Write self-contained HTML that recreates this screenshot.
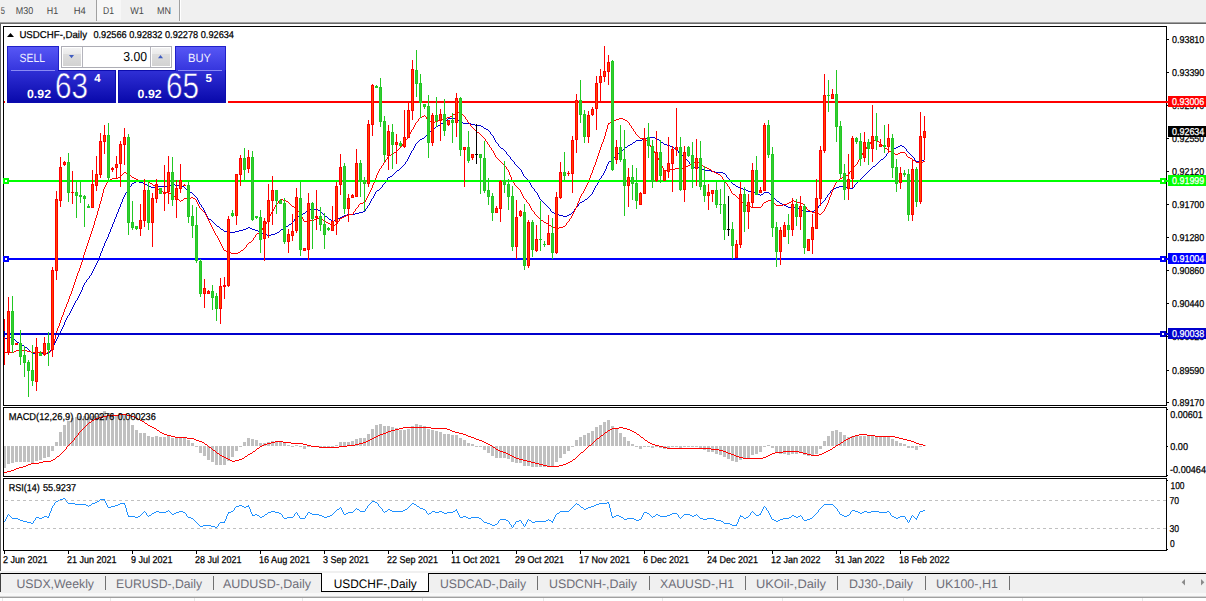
<!DOCTYPE html><html><head><meta charset="utf-8"><style>html,body{margin:0;padding:0;background:#fff}svg{display:block}</style></head><body><svg width="1206" height="601" viewBox="0 0 1206 601" font-family="Liberation Sans, sans-serif" text-rendering="geometricPrecision"><rect x="0" y="0" width="1206" height="601" fill="#ffffff" />
<rect x="0" y="0" width="1206" height="22" fill="#f0f0f0" />
<rect x="0" y="22" width="1206" height="1" fill="#a0a0a0" />
<rect x="0" y="23" width="1206" height="1" fill="#696969" />
<rect x="0" y="24" width="1" height="547" fill="#606060" />
<rect x="96" y="0" width="1" height="21" fill="#a0a0a0" />
<rect x="97" y="0" width="24" height="20" fill="#f7f7f7" />
<rect x="179" y="0" width="1" height="21" fill="#a0a0a0" />
<rect x="180" y="0" width="1" height="21" fill="#ffffff" />
<text x="0.8" y="14.2" font-size="10" fill="#484848" textLength="4.2" lengthAdjust="spacingAndGlyphs" stroke="none">5</text>
<text x="15.8" y="14.2" font-size="10" fill="#484848" textLength="17.4" lengthAdjust="spacingAndGlyphs" stroke="none">M30</text>
<text x="46.8" y="14.2" font-size="10" fill="#484848" textLength="11.4" lengthAdjust="spacingAndGlyphs" stroke="none">H1</text>
<text x="73.7" y="14.2" font-size="10" fill="#484848" textLength="12.1" lengthAdjust="spacingAndGlyphs" stroke="none">H4</text>
<text x="103" y="14.2" font-size="10" fill="#484848" textLength="11" lengthAdjust="spacingAndGlyphs" stroke="none">D1</text>
<text x="130.3" y="14.2" font-size="10" fill="#484848" textLength="13.6" lengthAdjust="spacingAndGlyphs" stroke="none">W1</text>
<text x="157" y="14.2" font-size="10" fill="#484848" textLength="14" lengthAdjust="spacingAndGlyphs" stroke="none">MN</text>
<rect x="3" y="26" width="1" height="525" fill="#000" />
<rect x="3" y="26" width="1164" height="1" fill="#000" />
<rect x="1166" y="26" width="1" height="525" fill="#000" />
<rect x="3" y="405" width="1164" height="1" fill="#000" />
<rect x="3" y="406" width="1164" height="1" fill="#fff" />
<rect x="3" y="407" width="1164" height="1" fill="#000" />
<rect x="3" y="476" width="1164" height="1" fill="#000" />
<rect x="3" y="477" width="1164" height="1" fill="#fff" />
<rect x="3" y="478" width="1164" height="1" fill="#000" />
<rect x="3" y="550" width="1164" height="1" fill="#000" />
<path d="M4 338h1v1h-1zM5 338h1v1h-1zM6 338h1v1h-1zM7 337h1v1h-1zM8 337h1v1h-1zM9 337h1v1h-1zM10 337h1v1h-1zM11 338h1v1h-1zM12 338h1v1h-1zM13 339h1v1h-1zM14 339h1v1h-1zM15 340h1v1h-1zM16 341h1v1h-1zM17 342h1v1h-1zM18 342h1v1h-1zM19 343h1v1h-1zM20 344h1v1h-1zM21 344h1v1h-1zM22 345h1v1h-1zM23 345h1v1h-1zM24 346h1v1h-1zM25 347h1v1h-1zM26 347h1v1h-1zM27 348h1v1h-1zM28 349h1v1h-1zM29 350h1v1h-1zM30 351h1v1h-1zM31 352h1v1h-1zM32 353h1v1h-1zM33 353h1v1h-1zM34 353h1v1h-1zM35 352h1v1h-1zM36 352h1v1h-1zM37 352h1v1h-1zM38 352h1v1h-1zM39 353h1v1h-1zM40 353h1v1h-1zM41 353h1v1h-1zM42 353h1v1h-1zM43 353h1v1h-1zM44 353h1v1h-1zM45 353h1v1h-1zM46 353h1v1h-1zM47 353h1v1h-1zM48 353h1v1h-1zM49 352h1v1h-1zM50 350h1v2h-1zM51 349h1v1h-1zM52 347h1v2h-1zM53 345h1v2h-1zM54 343h1v2h-1zM55 341h1v2h-1zM56 339h1v2h-1zM57 337h1v2h-1zM58 335h1v2h-1zM59 333h1v2h-1zM60 331h1v2h-1zM61 329h1v2h-1zM62 327h1v2h-1zM63 325h1v2h-1zM64 322h1v3h-1zM65 320h1v2h-1zM66 318h1v2h-1zM67 316h1v2h-1zM68 315h1v1h-1zM69 313h1v2h-1zM70 311h1v2h-1zM71 309h1v2h-1zM72 307h1v2h-1zM73 305h1v2h-1zM74 303h1v2h-1zM75 301h1v2h-1zM76 300h1v1h-1zM77 298h1v2h-1zM78 296h1v2h-1zM79 294h1v2h-1zM80 292h1v2h-1zM81 290h1v2h-1zM82 287h1v3h-1zM83 285h1v2h-1zM84 283h1v2h-1zM85 282h1v1h-1zM86 280h1v2h-1zM87 279h1v1h-1zM88 278h1v1h-1zM89 276h1v2h-1zM90 275h1v1h-1zM91 273h1v2h-1zM92 271h1v2h-1zM93 269h1v2h-1zM94 267h1v2h-1zM95 265h1v2h-1zM96 263h1v2h-1zM97 261h1v2h-1zM98 258h1v3h-1zM99 256h1v2h-1zM100 253h1v3h-1zM101 251h1v2h-1zM102 248h1v3h-1zM103 246h1v2h-1zM104 243h1v3h-1zM105 241h1v2h-1zM106 239h1v2h-1zM107 237h1v2h-1zM108 234h1v3h-1zM109 232h1v2h-1zM110 229h1v3h-1zM111 227h1v2h-1zM112 224h1v3h-1zM113 222h1v2h-1zM114 219h1v3h-1zM115 217h1v2h-1zM116 214h1v3h-1zM117 212h1v2h-1zM118 209h1v3h-1zM119 207h1v2h-1zM120 204h1v3h-1zM121 202h1v2h-1zM122 199h1v3h-1zM123 197h1v2h-1zM124 195h1v2h-1zM125 193h1v2h-1zM126 192h1v1h-1zM127 190h1v2h-1zM128 189h1v1h-1zM129 187h1v2h-1zM130 186h1v1h-1zM131 184h1v2h-1zM132 183h1v1h-1zM133 183h1v1h-1zM134 182h1v1h-1zM135 182h1v1h-1zM136 181h1v1h-1zM137 181h1v1h-1zM138 181h1v1h-1zM139 182h1v1h-1zM140 182h1v1h-1zM141 182h1v1h-1zM142 182h1v1h-1zM143 183h1v1h-1zM144 183h1v1h-1zM145 184h1v1h-1zM146 184h1v1h-1zM147 185h1v1h-1zM148 186h1v1h-1zM149 186h1v1h-1zM150 186h1v1h-1zM151 187h1v1h-1zM152 187h1v1h-1zM153 187h1v1h-1zM154 187h1v1h-1zM155 186h1v1h-1zM156 186h1v1h-1zM157 186h1v1h-1zM158 186h1v1h-1zM159 186h1v1h-1zM160 186h1v1h-1zM161 186h1v1h-1zM162 186h1v1h-1zM163 186h1v1h-1zM164 186h1v1h-1zM165 186h1v1h-1zM166 186h1v1h-1zM167 185h1v1h-1zM168 185h1v1h-1zM169 185h1v1h-1zM170 185h1v1h-1zM171 184h1v1h-1zM172 184h1v1h-1zM173 184h1v1h-1zM174 184h1v1h-1zM175 185h1v1h-1zM176 185h1v1h-1zM177 185h1v1h-1zM178 185h1v1h-1zM179 185h1v1h-1zM180 185h1v1h-1zM181 185h1v1h-1zM182 186h1v1h-1zM183 186h1v1h-1zM184 187h1v1h-1zM185 188h1v1h-1zM186 189h1v1h-1zM187 190h1v1h-1zM188 191h1v1h-1zM189 191h1v1h-1zM190 192h1v1h-1zM191 192h1v1h-1zM192 193h1v1h-1zM193 194h1v1h-1zM194 195h1v1h-1zM195 196h1v1h-1zM196 197h1v1h-1zM197 198h1v2h-1zM198 200h1v2h-1zM199 202h1v2h-1zM200 204h1v1h-1zM201 205h1v2h-1zM202 207h1v1h-1zM203 208h1v2h-1zM204 210h1v2h-1zM205 212h1v2h-1zM206 214h1v2h-1zM207 216h1v2h-1zM208 218h1v1h-1zM209 219h1v1h-1zM210 219h1v1h-1zM211 220h1v1h-1zM212 221h1v1h-1zM213 222h1v1h-1zM214 223h1v1h-1zM215 224h1v1h-1zM216 225h1v1h-1zM217 226h1v1h-1zM218 226h1v1h-1zM219 227h1v1h-1zM220 228h1v1h-1zM221 229h1v1h-1zM222 229h1v1h-1zM223 230h1v1h-1zM224 231h1v1h-1zM225 231h1v1h-1zM226 231h1v1h-1zM227 232h1v1h-1zM228 232h1v1h-1zM229 232h1v1h-1zM230 232h1v1h-1zM231 232h1v1h-1zM232 232h1v1h-1zM233 232h1v1h-1zM234 232h1v1h-1zM235 231h1v1h-1zM236 231h1v1h-1zM237 231h1v1h-1zM238 231h1v1h-1zM239 230h1v1h-1zM240 230h1v1h-1zM241 230h1v1h-1zM242 230h1v1h-1zM243 229h1v1h-1zM244 229h1v1h-1zM245 229h1v1h-1zM246 228h1v1h-1zM247 228h1v1h-1zM248 227h1v1h-1zM249 227h1v1h-1zM250 228h1v1h-1zM251 228h1v1h-1zM252 229h1v1h-1zM253 229h1v1h-1zM254 229h1v1h-1zM255 230h1v1h-1zM256 230h1v1h-1zM257 230h1v1h-1zM258 231h1v1h-1zM259 231h1v1h-1zM260 232h1v1h-1zM261 232h1v1h-1zM262 233h1v1h-1zM263 233h1v1h-1zM264 234h1v1h-1zM265 234h1v1h-1zM266 234h1v1h-1zM267 235h1v1h-1zM268 235h1v1h-1zM269 235h1v1h-1zM270 235h1v1h-1zM271 234h1v1h-1zM272 234h1v1h-1zM273 234h1v1h-1zM274 234h1v1h-1zM275 233h1v1h-1zM276 233h1v1h-1zM277 232h1v1h-1zM278 232h1v1h-1zM279 231h1v1h-1zM280 230h1v1h-1zM281 229h1v1h-1zM282 229h1v1h-1zM283 228h1v1h-1zM284 227h1v1h-1zM285 227h1v1h-1zM286 226h1v1h-1zM287 226h1v1h-1zM288 225h1v1h-1zM289 224h1v1h-1zM290 224h1v1h-1zM291 223h1v1h-1zM292 222h1v1h-1zM293 221h1v1h-1zM294 219h1v2h-1zM295 218h1v1h-1zM296 217h1v1h-1zM297 216h1v1h-1zM298 216h1v1h-1zM299 215h1v1h-1zM300 214h1v1h-1zM301 214h1v1h-1zM302 214h1v1h-1zM303 213h1v1h-1zM304 213h1v1h-1zM305 212h1v1h-1zM306 211h1v1h-1zM307 210h1v1h-1zM308 209h1v1h-1zM309 209h1v1h-1zM310 209h1v1h-1zM311 209h1v1h-1zM312 209h1v1h-1zM313 209h1v1h-1zM314 209h1v1h-1zM315 209h1v1h-1zM316 209h1v1h-1zM317 209h1v1h-1zM318 210h1v1h-1zM319 210h1v1h-1zM320 211h1v1h-1zM321 212h1v1h-1zM322 213h1v1h-1zM323 214h1v1h-1zM324 215h1v1h-1zM325 216h1v1h-1zM326 216h1v1h-1zM327 217h1v1h-1zM328 218h1v1h-1zM329 219h1v1h-1zM330 219h1v1h-1zM331 220h1v1h-1zM332 221h1v1h-1zM333 221h1v1h-1zM334 220h1v1h-1zM335 220h1v1h-1zM336 219h1v1h-1zM337 219h1v1h-1zM338 218h1v1h-1zM339 218h1v1h-1zM340 217h1v1h-1zM341 217h1v1h-1zM342 216h1v1h-1zM343 216h1v1h-1zM344 215h1v1h-1zM345 215h1v1h-1zM346 215h1v1h-1zM347 214h1v1h-1zM348 214h1v1h-1zM349 214h1v1h-1zM350 214h1v1h-1zM351 214h1v1h-1zM352 214h1v1h-1zM353 214h1v1h-1zM354 214h1v1h-1zM355 213h1v1h-1zM356 213h1v1h-1zM357 213h1v1h-1zM358 213h1v1h-1zM359 212h1v1h-1zM360 212h1v1h-1zM361 212h1v1h-1zM362 212h1v1h-1zM363 211h1v1h-1zM364 211h1v1h-1zM365 209h1v2h-1zM366 208h1v1h-1zM367 206h1v2h-1zM368 205h1v1h-1zM369 203h1v2h-1zM370 201h1v2h-1zM371 199h1v2h-1zM372 198h1v1h-1zM373 196h1v2h-1zM374 194h1v2h-1zM375 192h1v2h-1zM376 191h1v1h-1zM377 190h1v1h-1zM378 190h1v1h-1zM379 189h1v1h-1zM380 188h1v1h-1zM381 187h1v1h-1zM382 185h1v2h-1zM383 184h1v1h-1zM384 183h1v1h-1zM385 181h1v2h-1zM386 180h1v1h-1zM387 178h1v2h-1zM388 177h1v1h-1zM389 177h1v1h-1zM390 176h1v1h-1zM391 176h1v1h-1zM392 175h1v1h-1zM393 174h1v1h-1zM394 173h1v1h-1zM395 172h1v1h-1zM396 171h1v1h-1zM397 170h1v1h-1zM398 170h1v1h-1zM399 169h1v1h-1zM400 168h1v1h-1zM401 167h1v1h-1zM402 166h1v1h-1zM403 165h1v1h-1zM404 164h1v1h-1zM405 162h1v2h-1zM406 161h1v1h-1zM407 159h1v2h-1zM408 157h1v2h-1zM409 155h1v2h-1zM410 153h1v2h-1zM411 151h1v2h-1zM412 150h1v1h-1zM413 148h1v2h-1zM414 146h1v2h-1zM415 144h1v2h-1zM416 143h1v1h-1zM417 142h1v1h-1zM418 141h1v1h-1zM419 140h1v1h-1zM420 139h1v1h-1zM421 139h1v1h-1zM422 138h1v1h-1zM423 138h1v1h-1zM424 137h1v1h-1zM425 136h1v1h-1zM426 135h1v1h-1zM427 134h1v1h-1zM428 133h1v1h-1zM429 132h1v1h-1zM430 131h1v1h-1zM431 130h1v1h-1zM432 129h1v1h-1zM433 128h1v1h-1zM434 128h1v1h-1zM435 127h1v1h-1zM436 126h1v1h-1zM437 126h1v1h-1zM438 125h1v1h-1zM439 125h1v1h-1zM440 124h1v1h-1zM441 123h1v1h-1zM442 123h1v1h-1zM443 122h1v1h-1zM444 121h1v1h-1zM445 120h1v1h-1zM446 120h1v1h-1zM447 119h1v1h-1zM448 118h1v1h-1zM449 118h1v1h-1zM450 118h1v1h-1zM451 118h1v1h-1zM452 118h1v1h-1zM453 118h1v1h-1zM454 118h1v1h-1zM455 119h1v1h-1zM456 119h1v1h-1zM457 120h1v1h-1zM458 120h1v1h-1zM459 121h1v1h-1zM460 122h1v1h-1zM461 122h1v1h-1zM462 122h1v1h-1zM463 123h1v1h-1zM464 123h1v1h-1zM465 123h1v1h-1zM466 123h1v1h-1zM467 123h1v1h-1zM468 123h1v1h-1zM469 123h1v1h-1zM470 123h1v1h-1zM471 124h1v1h-1zM472 124h1v1h-1zM473 124h1v1h-1zM474 124h1v1h-1zM475 125h1v1h-1zM476 125h1v1h-1zM477 125h1v1h-1zM478 125h1v1h-1zM479 125h1v1h-1zM480 125h1v1h-1zM481 126h1v1h-1zM482 126h1v1h-1zM483 127h1v1h-1zM484 128h1v1h-1zM485 128h1v1h-1zM486 129h1v1h-1zM487 129h1v1h-1zM488 130h1v1h-1zM489 131h1v1h-1zM490 132h1v2h-1zM491 134h1v1h-1zM492 135h1v1h-1zM493 136h1v2h-1zM494 138h1v2h-1zM495 140h1v2h-1zM496 142h1v1h-1zM497 143h1v1h-1zM498 144h1v2h-1zM499 146h1v1h-1zM500 147h1v1h-1zM501 148h1v1h-1zM502 148h1v1h-1zM503 149h1v1h-1zM504 150h1v1h-1zM505 151h1v1h-1zM506 152h1v2h-1zM507 154h1v1h-1zM508 155h1v1h-1zM509 156h1v1h-1zM510 157h1v2h-1zM511 159h1v1h-1zM512 160h1v1h-1zM513 161h1v1h-1zM514 162h1v2h-1zM515 164h1v1h-1zM516 165h1v1h-1zM517 166h1v1h-1zM518 167h1v1h-1zM519 168h1v1h-1zM520 169h1v1h-1zM521 170h1v2h-1zM522 172h1v2h-1zM523 174h1v2h-1zM524 176h1v1h-1zM525 177h1v1h-1zM526 178h1v1h-1zM527 179h1v1h-1zM528 180h1v1h-1zM529 181h1v2h-1zM530 183h1v2h-1zM531 185h1v2h-1zM532 187h1v1h-1zM533 188h1v1h-1zM534 189h1v2h-1zM535 191h1v1h-1zM536 192h1v1h-1zM537 193h1v2h-1zM538 195h1v2h-1zM539 197h1v2h-1zM540 199h1v1h-1zM541 200h1v1h-1zM542 201h1v1h-1zM543 202h1v1h-1zM544 203h1v1h-1zM545 204h1v1h-1zM546 205h1v1h-1zM547 206h1v1h-1zM548 207h1v1h-1zM549 208h1v1h-1zM550 209h1v2h-1zM551 211h1v1h-1zM552 212h1v1h-1zM553 212h1v1h-1zM554 213h1v1h-1zM555 213h1v1h-1zM556 214h1v1h-1zM557 214h1v1h-1zM558 214h1v1h-1zM559 215h1v1h-1zM560 215h1v1h-1zM561 215h1v1h-1zM562 215h1v1h-1zM563 216h1v1h-1zM564 216h1v1h-1zM565 216h1v1h-1zM566 216h1v1h-1zM567 215h1v1h-1zM568 215h1v1h-1zM569 214h1v1h-1zM570 214h1v1h-1zM571 213h1v1h-1zM572 212h1v1h-1zM573 211h1v1h-1zM574 209h1v2h-1zM575 208h1v1h-1zM576 207h1v1h-1zM577 206h1v1h-1zM578 204h1v2h-1zM579 203h1v1h-1zM580 202h1v1h-1zM581 202h1v1h-1zM582 201h1v1h-1zM583 201h1v1h-1zM584 200h1v1h-1zM585 199h1v1h-1zM586 199h1v1h-1zM587 198h1v1h-1zM588 197h1v1h-1zM589 196h1v1h-1zM590 195h1v1h-1zM591 194h1v1h-1zM592 192h1v2h-1zM593 190h1v2h-1zM594 188h1v2h-1zM595 186h1v2h-1zM596 185h1v1h-1zM597 183h1v2h-1zM598 181h1v2h-1zM599 179h1v2h-1zM600 178h1v1h-1zM601 176h1v2h-1zM602 175h1v1h-1zM603 173h1v2h-1zM604 171h1v2h-1zM605 169h1v2h-1zM606 166h1v3h-1zM607 164h1v2h-1zM608 162h1v2h-1zM609 161h1v1h-1zM610 161h1v1h-1zM611 160h1v1h-1zM612 159h1v1h-1zM613 158h1v1h-1zM614 157h1v1h-1zM615 156h1v1h-1zM616 155h1v1h-1zM617 154h1v1h-1zM618 153h1v1h-1zM619 152h1v1h-1zM620 151h1v1h-1zM621 150h1v1h-1zM622 150h1v1h-1zM623 149h1v1h-1zM624 148h1v1h-1zM625 147h1v1h-1zM626 147h1v1h-1zM627 146h1v1h-1zM628 145h1v1h-1zM629 145h1v1h-1zM630 144h1v1h-1zM631 144h1v1h-1zM632 143h1v1h-1zM633 142h1v1h-1zM634 142h1v1h-1zM635 141h1v1h-1zM636 140h1v1h-1zM637 140h1v1h-1zM638 140h1v1h-1zM639 140h1v1h-1zM640 140h1v1h-1zM641 140h1v1h-1zM642 139h1v1h-1zM643 139h1v1h-1zM644 138h1v1h-1zM645 138h1v1h-1zM646 138h1v1h-1zM647 137h1v1h-1zM648 137h1v1h-1zM649 137h1v1h-1zM650 137h1v1h-1zM651 137h1v1h-1zM652 137h1v1h-1zM653 137h1v1h-1zM654 137h1v1h-1zM655 138h1v1h-1zM656 138h1v1h-1zM657 139h1v1h-1zM658 139h1v1h-1zM659 140h1v1h-1zM660 141h1v1h-1zM661 142h1v1h-1zM662 142h1v1h-1zM663 143h1v1h-1zM664 144h1v1h-1zM665 144h1v1h-1zM666 144h1v1h-1zM667 145h1v1h-1zM668 145h1v1h-1zM669 145h1v1h-1zM670 146h1v1h-1zM671 146h1v1h-1zM672 147h1v1h-1zM673 147h1v1h-1zM674 148h1v1h-1zM675 148h1v1h-1zM676 149h1v1h-1zM677 150h1v1h-1zM678 151h1v2h-1zM679 153h1v1h-1zM680 154h1v1h-1zM681 155h1v1h-1zM682 155h1v1h-1zM683 156h1v1h-1zM684 157h1v1h-1zM685 158h1v1h-1zM686 159h1v1h-1zM687 160h1v1h-1zM688 161h1v1h-1zM689 162h1v2h-1zM690 164h1v1h-1zM691 165h1v2h-1zM692 167h1v1h-1zM693 167h1v1h-1zM694 167h1v1h-1zM695 166h1v1h-1zM696 166h1v1h-1zM697 166h1v1h-1zM698 167h1v1h-1zM699 167h1v1h-1zM700 168h1v1h-1zM701 168h1v1h-1zM702 169h1v1h-1zM703 169h1v1h-1zM704 170h1v1h-1zM705 170h1v1h-1zM706 170h1v1h-1zM707 170h1v1h-1zM708 170h1v1h-1zM709 170h1v1h-1zM710 170h1v1h-1zM711 171h1v1h-1zM712 171h1v1h-1zM713 171h1v1h-1zM714 171h1v1h-1zM715 172h1v1h-1zM716 172h1v1h-1zM717 172h1v1h-1zM718 172h1v1h-1zM719 172h1v1h-1zM720 172h1v1h-1zM721 172h1v1h-1zM722 172h1v1h-1zM723 173h1v1h-1zM724 173h1v1h-1zM725 174h1v1h-1zM726 175h1v2h-1zM727 177h1v1h-1zM728 178h1v1h-1zM729 179h1v1h-1zM730 180h1v2h-1zM731 182h1v1h-1zM732 183h1v1h-1zM733 184h1v1h-1zM734 184h1v1h-1zM735 185h1v1h-1zM736 186h1v1h-1zM737 186h1v1h-1zM738 187h1v1h-1zM739 187h1v1h-1zM740 188h1v1h-1zM741 188h1v1h-1zM742 188h1v1h-1zM743 189h1v1h-1zM744 189h1v1h-1zM745 189h1v1h-1zM746 190h1v1h-1zM747 190h1v1h-1zM748 191h1v1h-1zM749 191h1v1h-1zM750 191h1v1h-1zM751 191h1v1h-1zM752 191h1v1h-1zM753 191h1v1h-1zM754 192h1v1h-1zM755 192h1v1h-1zM756 193h1v1h-1zM757 193h1v1h-1zM758 194h1v1h-1zM759 194h1v1h-1zM760 195h1v1h-1zM761 194h1v1h-1zM762 194h1v1h-1zM763 193h1v1h-1zM764 192h1v1h-1zM765 192h1v1h-1zM766 192h1v1h-1zM767 192h1v1h-1zM768 192h1v1h-1zM769 193h1v1h-1zM770 194h1v1h-1zM771 195h1v1h-1zM772 196h1v1h-1zM773 197h1v1h-1zM774 198h1v1h-1zM775 199h1v1h-1zM776 200h1v1h-1zM777 201h1v1h-1zM778 201h1v1h-1zM779 202h1v1h-1zM780 203h1v1h-1zM781 203h1v1h-1zM782 204h1v1h-1zM783 204h1v1h-1zM784 205h1v1h-1zM785 205h1v1h-1zM786 206h1v1h-1zM787 206h1v1h-1zM788 207h1v1h-1zM789 207h1v1h-1zM790 207h1v1h-1zM791 207h1v1h-1zM792 207h1v1h-1zM793 207h1v1h-1zM794 207h1v1h-1zM795 208h1v1h-1zM796 208h1v1h-1zM797 208h1v1h-1zM798 208h1v1h-1zM799 209h1v1h-1zM800 209h1v1h-1zM801 209h1v1h-1zM802 210h1v1h-1zM803 210h1v1h-1zM804 211h1v1h-1zM805 211h1v1h-1zM806 211h1v1h-1zM807 211h1v1h-1zM808 211h1v1h-1zM809 211h1v1h-1zM810 211h1v1h-1zM811 211h1v1h-1zM812 211h1v1h-1zM813 211h1v1h-1zM814 210h1v1h-1zM815 210h1v1h-1zM816 209h1v1h-1zM817 208h1v1h-1zM818 206h1v2h-1zM819 205h1v1h-1zM820 204h1v1h-1zM821 203h1v1h-1zM822 202h1v1h-1zM823 201h1v1h-1zM824 200h1v1h-1zM825 198h1v2h-1zM826 197h1v1h-1zM827 195h1v2h-1zM828 194h1v1h-1zM829 193h1v1h-1zM830 191h1v2h-1zM831 190h1v1h-1zM832 189h1v1h-1zM833 189h1v1h-1zM834 188h1v1h-1zM835 188h1v1h-1zM836 187h1v1h-1zM837 187h1v1h-1zM838 187h1v1h-1zM839 186h1v1h-1zM840 186h1v1h-1zM841 186h1v1h-1zM842 186h1v1h-1zM843 186h1v1h-1zM844 186h1v1h-1zM845 186h1v1h-1zM846 187h1v1h-1zM847 187h1v1h-1zM848 188h1v1h-1zM849 188h1v1h-1zM850 188h1v1h-1zM851 188h1v1h-1zM852 188h1v1h-1zM853 187h1v1h-1zM854 185h1v2h-1zM855 184h1v1h-1zM856 183h1v1h-1zM857 182h1v1h-1zM858 181h1v1h-1zM859 180h1v1h-1zM860 179h1v1h-1zM861 178h1v1h-1zM862 177h1v1h-1zM863 176h1v1h-1zM864 175h1v1h-1zM865 174h1v1h-1zM866 173h1v1h-1zM867 172h1v1h-1zM868 171h1v1h-1zM869 170h1v1h-1zM870 169h1v1h-1zM871 168h1v1h-1zM872 167h1v1h-1zM873 166h1v1h-1zM874 166h1v1h-1zM875 165h1v1h-1zM876 164h1v1h-1zM877 163h1v1h-1zM878 162h1v1h-1zM879 161h1v1h-1zM880 160h1v1h-1zM881 159h1v1h-1zM882 159h1v1h-1zM883 158h1v1h-1zM884 157h1v1h-1zM885 156h1v1h-1zM886 154h1v2h-1zM887 153h1v1h-1zM888 152h1v1h-1zM889 151h1v1h-1zM890 151h1v1h-1zM891 150h1v1h-1zM892 149h1v1h-1zM893 149h1v1h-1zM894 148h1v1h-1zM895 148h1v1h-1zM896 147h1v1h-1zM897 147h1v1h-1zM898 146h1v1h-1zM899 146h1v1h-1zM900 145h1v1h-1zM901 145h1v1h-1zM902 146h1v1h-1zM903 146h1v1h-1zM904 147h1v1h-1zM905 148h1v1h-1zM906 149h1v2h-1zM907 151h1v1h-1zM908 152h1v1h-1zM909 153h1v1h-1zM910 154h1v1h-1zM911 155h1v1h-1zM912 156h1v1h-1zM913 157h1v1h-1zM914 158h1v2h-1zM915 160h1v1h-1zM916 161h1v1h-1zM917 161h1v1h-1zM918 161h1v1h-1zM919 161h1v1h-1zM920 161h1v1h-1zM921 161h1v1h-1zM922 160h1v1h-1zM923 160h1v1h-1zM924 159h1v1h-1z" fill="#0000d0" shape-rendering="crispEdges"/>
<path d="M4 352h1v1h-1zM5 352h1v1h-1zM6 352h1v1h-1zM7 352h1v1h-1zM8 352h1v1h-1zM9 352h1v1h-1zM10 352h1v1h-1zM11 352h1v1h-1zM12 352h1v1h-1zM13 352h1v1h-1zM14 351h1v1h-1zM15 351h1v1h-1zM16 350h1v1h-1zM17 350h1v1h-1zM18 350h1v1h-1zM19 350h1v1h-1zM20 350h1v1h-1zM21 350h1v1h-1zM22 350h1v1h-1zM23 350h1v1h-1zM24 350h1v1h-1zM25 350h1v1h-1zM26 350h1v1h-1zM27 351h1v1h-1zM28 351h1v1h-1zM29 351h1v1h-1zM30 351h1v1h-1zM31 352h1v1h-1zM32 352h1v1h-1zM33 352h1v1h-1zM34 352h1v1h-1zM35 352h1v1h-1zM36 352h1v1h-1zM37 352h1v1h-1zM38 352h1v1h-1zM39 352h1v1h-1zM40 352h1v1h-1zM41 352h1v1h-1zM42 352h1v1h-1zM43 353h1v1h-1zM44 353h1v1h-1zM45 353h1v1h-1zM46 353h1v1h-1zM47 352h1v1h-1zM48 352h1v1h-1zM49 351h1v1h-1zM50 351h1v1h-1zM51 350h1v1h-1zM52 347h1v3h-1zM53 343h1v4h-1zM54 339h1v4h-1zM55 335h1v4h-1zM56 331h1v4h-1zM57 328h1v3h-1zM58 326h1v2h-1zM59 323h1v3h-1zM60 320h1v3h-1zM61 317h1v3h-1zM62 315h1v2h-1zM63 312h1v3h-1zM64 309h1v3h-1zM65 307h1v2h-1zM66 304h1v3h-1zM67 302h1v2h-1zM68 299h1v3h-1zM69 296h1v3h-1zM70 294h1v2h-1zM71 291h1v3h-1zM72 288h1v3h-1zM73 285h1v3h-1zM74 282h1v3h-1zM75 279h1v3h-1zM76 276h1v3h-1zM77 273h1v3h-1zM78 271h1v2h-1zM79 268h1v3h-1zM80 265h1v3h-1zM81 262h1v3h-1zM82 258h1v4h-1zM83 255h1v3h-1zM84 252h1v3h-1zM85 249h1v3h-1zM86 246h1v3h-1zM87 243h1v3h-1zM88 240h1v3h-1zM89 237h1v3h-1zM90 234h1v3h-1zM91 231h1v3h-1zM92 228h1v3h-1zM93 225h1v3h-1zM94 221h1v4h-1zM95 218h1v3h-1zM96 215h1v3h-1zM97 211h1v4h-1zM98 208h1v3h-1zM99 204h1v4h-1zM100 201h1v3h-1zM101 197h1v4h-1zM102 193h1v4h-1zM103 189h1v4h-1zM104 187h1v2h-1zM105 185h1v2h-1zM106 183h1v2h-1zM107 181h1v2h-1zM108 180h1v1h-1zM109 180h1v1h-1zM110 179h1v1h-1zM111 179h1v1h-1zM112 178h1v1h-1zM113 178h1v1h-1zM114 178h1v1h-1zM115 178h1v1h-1zM116 178h1v1h-1zM117 178h1v1h-1zM118 177h1v1h-1zM119 177h1v1h-1zM120 176h1v1h-1zM121 175h1v1h-1zM122 174h1v1h-1zM123 173h1v1h-1zM124 172h1v1h-1zM125 172h1v1h-1zM126 173h1v1h-1zM127 173h1v1h-1zM128 174h1v1h-1zM129 175h1v1h-1zM130 175h1v1h-1zM131 176h1v1h-1zM132 177h1v1h-1zM133 177h1v1h-1zM134 178h1v1h-1zM135 178h1v1h-1zM136 179h1v1h-1zM137 179h1v1h-1zM138 180h1v1h-1zM139 180h1v1h-1zM140 181h1v1h-1zM141 181h1v1h-1zM142 180h1v1h-1zM143 180h1v1h-1zM144 179h1v1h-1zM145 180h1v1h-1zM146 180h1v1h-1zM147 181h1v1h-1zM148 182h1v1h-1zM149 182h1v1h-1zM150 183h1v1h-1zM151 183h1v1h-1zM152 184h1v1h-1zM153 185h1v1h-1zM154 185h1v1h-1zM155 186h1v1h-1zM156 187h1v1h-1zM157 188h1v1h-1zM158 189h1v1h-1zM159 190h1v1h-1zM160 191h1v1h-1zM161 191h1v1h-1zM162 191h1v1h-1zM163 192h1v1h-1zM164 192h1v1h-1zM165 192h1v1h-1zM166 192h1v1h-1zM167 192h1v1h-1zM168 192h1v1h-1zM169 193h1v1h-1zM170 193h1v1h-1zM171 194h1v1h-1zM172 195h1v1h-1zM173 196h1v1h-1zM174 196h1v1h-1zM175 197h1v1h-1zM176 198h1v1h-1zM177 199h1v1h-1zM178 199h1v1h-1zM179 200h1v1h-1zM180 201h1v1h-1zM181 200h1v1h-1zM182 200h1v1h-1zM183 199h1v1h-1zM184 198h1v1h-1zM185 198h1v1h-1zM186 198h1v1h-1zM187 198h1v1h-1zM188 198h1v1h-1zM189 198h1v1h-1zM190 198h1v1h-1zM191 197h1v1h-1zM192 197h1v1h-1zM193 198h1v1h-1zM194 198h1v1h-1zM195 199h1v1h-1zM196 200h1v2h-1zM197 202h1v2h-1zM198 204h1v2h-1zM199 206h1v2h-1zM200 208h1v1h-1zM201 209h1v1h-1zM202 210h1v1h-1zM203 211h1v1h-1zM204 212h1v1h-1zM205 213h1v2h-1zM206 215h1v2h-1zM207 217h1v2h-1zM208 219h1v2h-1zM209 221h1v2h-1zM210 223h1v2h-1zM211 225h1v2h-1zM212 227h1v2h-1zM213 229h1v2h-1zM214 231h1v2h-1zM215 233h1v2h-1zM216 235h1v1h-1zM217 236h1v2h-1zM218 238h1v2h-1zM219 240h1v2h-1zM220 242h1v2h-1zM221 244h1v2h-1zM222 246h1v2h-1zM223 248h1v2h-1zM224 250h1v1h-1zM225 250h1v1h-1zM226 251h1v1h-1zM227 251h1v1h-1zM228 252h1v1h-1zM229 252h1v1h-1zM230 252h1v1h-1zM231 253h1v1h-1zM232 253h1v1h-1zM233 253h1v1h-1zM234 253h1v1h-1zM235 253h1v1h-1zM236 253h1v1h-1zM237 253h1v1h-1zM238 252h1v1h-1zM239 252h1v1h-1zM240 251h1v1h-1zM241 250h1v1h-1zM242 250h1v1h-1zM243 249h1v1h-1zM244 248h1v1h-1zM245 247h1v1h-1zM246 245h1v2h-1zM247 244h1v1h-1zM248 243h1v1h-1zM249 242h1v1h-1zM250 242h1v1h-1zM251 241h1v1h-1zM252 240h1v1h-1zM253 238h1v2h-1zM254 237h1v1h-1zM255 235h1v2h-1zM256 234h1v1h-1zM257 233h1v1h-1zM258 233h1v1h-1zM259 232h1v1h-1zM260 231h1v1h-1zM261 230h1v1h-1zM262 228h1v2h-1zM263 227h1v1h-1zM264 226h1v1h-1zM265 224h1v2h-1zM266 222h1v2h-1zM267 220h1v2h-1zM268 218h1v2h-1zM269 216h1v2h-1zM270 214h1v2h-1zM271 212h1v2h-1zM272 211h1v1h-1zM273 209h1v2h-1zM274 207h1v2h-1zM275 205h1v2h-1zM276 204h1v1h-1zM277 203h1v1h-1zM278 201h1v2h-1zM279 200h1v1h-1zM280 199h1v1h-1zM281 199h1v1h-1zM282 199h1v1h-1zM283 200h1v1h-1zM284 200h1v1h-1zM285 200h1v1h-1zM286 201h1v1h-1zM287 201h1v1h-1zM288 202h1v1h-1zM289 203h1v1h-1zM290 204h1v1h-1zM291 205h1v1h-1zM292 206h1v1h-1zM293 206h1v1h-1zM294 207h1v1h-1zM295 207h1v1h-1zM296 208h1v1h-1zM297 209h1v2h-1zM298 211h1v1h-1zM299 212h1v2h-1zM300 214h1v1h-1zM301 215h1v2h-1zM302 217h1v2h-1zM303 219h1v2h-1zM304 221h1v1h-1zM305 221h1v1h-1zM306 221h1v1h-1zM307 220h1v1h-1zM308 220h1v1h-1zM309 220h1v1h-1zM310 220h1v1h-1zM311 220h1v1h-1zM312 220h1v1h-1zM313 220h1v1h-1zM314 219h1v1h-1zM315 219h1v1h-1zM316 218h1v1h-1zM317 218h1v1h-1zM318 218h1v1h-1zM319 218h1v1h-1zM320 218h1v1h-1zM321 219h1v1h-1zM322 219h1v1h-1zM323 220h1v1h-1zM324 221h1v1h-1zM325 221h1v1h-1zM326 222h1v1h-1zM327 222h1v1h-1zM328 223h1v1h-1zM329 223h1v1h-1zM330 224h1v1h-1zM331 224h1v1h-1zM332 225h1v1h-1zM333 225h1v1h-1zM334 225h1v1h-1zM335 224h1v1h-1zM336 224h1v1h-1zM337 222h1v2h-1zM338 221h1v1h-1zM339 219h1v2h-1zM340 218h1v1h-1zM341 218h1v1h-1zM342 217h1v1h-1zM343 217h1v1h-1zM344 216h1v1h-1zM345 216h1v1h-1zM346 215h1v1h-1zM347 215h1v1h-1zM348 214h1v1h-1zM349 214h1v1h-1zM350 214h1v1h-1zM351 214h1v1h-1zM352 214h1v1h-1zM353 212h1v2h-1zM354 211h1v1h-1zM355 209h1v2h-1zM356 208h1v1h-1zM357 207h1v1h-1zM358 205h1v2h-1zM359 204h1v1h-1zM360 203h1v1h-1zM361 203h1v1h-1zM362 203h1v1h-1zM363 202h1v1h-1zM364 202h1v1h-1zM365 200h1v2h-1zM366 198h1v2h-1zM367 196h1v2h-1zM368 194h1v2h-1zM369 192h1v2h-1zM370 190h1v2h-1zM371 188h1v2h-1zM372 185h1v3h-1zM373 183h1v2h-1zM374 180h1v3h-1zM375 178h1v2h-1zM376 175h1v3h-1zM377 173h1v2h-1zM378 171h1v2h-1zM379 169h1v2h-1zM380 168h1v1h-1zM381 166h1v2h-1zM382 165h1v1h-1zM383 163h1v2h-1zM384 162h1v1h-1zM385 160h1v2h-1zM386 159h1v1h-1zM387 157h1v2h-1zM388 156h1v1h-1zM389 155h1v1h-1zM390 155h1v1h-1zM391 154h1v1h-1zM392 153h1v1h-1zM393 153h1v1h-1zM394 152h1v1h-1zM395 152h1v1h-1zM396 151h1v1h-1zM397 150h1v1h-1zM398 149h1v1h-1zM399 148h1v1h-1zM400 147h1v1h-1zM401 146h1v1h-1zM402 144h1v2h-1zM403 143h1v1h-1zM404 142h1v1h-1zM405 140h1v2h-1zM406 139h1v1h-1zM407 137h1v2h-1zM408 136h1v1h-1zM409 134h1v2h-1zM410 132h1v2h-1zM411 130h1v2h-1zM412 129h1v1h-1zM413 127h1v2h-1zM414 125h1v2h-1zM415 123h1v2h-1zM416 122h1v1h-1zM417 121h1v1h-1zM418 119h1v2h-1zM419 118h1v1h-1zM420 117h1v1h-1zM421 117h1v1h-1zM422 116h1v1h-1zM423 116h1v1h-1zM424 115h1v1h-1zM425 116h1v1h-1zM426 117h1v2h-1zM427 119h1v1h-1zM428 120h1v1h-1zM429 120h1v1h-1zM430 121h1v1h-1zM431 121h1v1h-1zM432 122h1v1h-1zM433 122h1v1h-1zM434 122h1v1h-1zM435 121h1v1h-1zM436 121h1v1h-1zM437 121h1v1h-1zM438 120h1v1h-1zM439 120h1v1h-1zM440 119h1v1h-1zM441 119h1v1h-1zM442 119h1v1h-1zM443 118h1v1h-1zM444 118h1v1h-1zM445 118h1v1h-1zM446 118h1v1h-1zM447 117h1v1h-1zM448 117h1v1h-1zM449 117h1v1h-1zM450 116h1v1h-1zM451 116h1v1h-1zM452 115h1v1h-1zM453 114h1v1h-1zM454 114h1v1h-1zM455 113h1v1h-1zM456 112h1v1h-1zM457 112h1v1h-1zM458 112h1v1h-1zM459 113h1v1h-1zM460 113h1v1h-1zM461 114h1v1h-1zM462 114h1v1h-1zM463 115h1v1h-1zM464 116h1v1h-1zM465 117h1v2h-1zM466 119h1v1h-1zM467 120h1v2h-1zM468 122h1v1h-1zM469 123h1v1h-1zM470 124h1v2h-1zM471 126h1v1h-1zM472 127h1v1h-1zM473 128h1v1h-1zM474 129h1v1h-1zM475 130h1v1h-1zM476 131h1v1h-1zM477 132h1v1h-1zM478 132h1v1h-1zM479 133h1v1h-1zM480 134h1v1h-1zM481 135h1v1h-1zM482 136h1v1h-1zM483 137h1v1h-1zM484 138h1v1h-1zM485 139h1v2h-1zM486 141h1v1h-1zM487 142h1v2h-1zM488 144h1v1h-1zM489 145h1v2h-1zM490 147h1v1h-1zM491 148h1v2h-1zM492 150h1v1h-1zM493 151h1v2h-1zM494 153h1v2h-1zM495 155h1v2h-1zM496 157h1v1h-1zM497 158h1v1h-1zM498 159h1v1h-1zM499 160h1v1h-1zM500 161h1v1h-1zM501 162h1v1h-1zM502 163h1v1h-1zM503 164h1v1h-1zM504 165h1v1h-1zM505 166h1v1h-1zM506 167h1v2h-1zM507 169h1v1h-1zM508 170h1v2h-1zM509 172h1v3h-1zM510 175h1v2h-1zM511 177h1v3h-1zM512 180h1v2h-1zM513 182h1v1h-1zM514 183h1v2h-1zM515 185h1v1h-1zM516 186h1v1h-1zM517 187h1v1h-1zM518 188h1v1h-1zM519 189h1v1h-1zM520 190h1v2h-1zM521 192h1v2h-1zM522 194h1v2h-1zM523 196h1v2h-1zM524 198h1v1h-1zM525 199h1v1h-1zM526 200h1v2h-1zM527 202h1v1h-1zM528 203h1v1h-1zM529 204h1v2h-1zM530 206h1v2h-1zM531 208h1v2h-1zM532 210h1v1h-1zM533 211h1v1h-1zM534 212h1v2h-1zM535 214h1v1h-1zM536 215h1v1h-1zM537 216h1v1h-1zM538 217h1v1h-1zM539 218h1v1h-1zM540 219h1v1h-1zM541 220h1v1h-1zM542 220h1v1h-1zM543 221h1v1h-1zM544 222h1v1h-1zM545 222h1v1h-1zM546 223h1v1h-1zM547 223h1v1h-1zM548 224h1v1h-1zM549 225h1v1h-1zM550 225h1v1h-1zM551 226h1v1h-1zM552 227h1v1h-1zM553 227h1v1h-1zM554 227h1v1h-1zM555 228h1v1h-1zM556 228h1v1h-1zM557 228h1v1h-1zM558 228h1v1h-1zM559 227h1v1h-1zM560 227h1v1h-1zM561 227h1v1h-1zM562 227h1v1h-1zM563 226h1v1h-1zM564 226h1v1h-1zM565 225h1v1h-1zM566 223h1v2h-1zM567 222h1v1h-1zM568 221h1v1h-1zM569 219h1v2h-1zM570 218h1v1h-1zM571 216h1v2h-1zM572 214h1v2h-1zM573 212h1v2h-1zM574 210h1v2h-1zM575 208h1v2h-1zM576 206h1v2h-1zM577 203h1v3h-1zM578 201h1v2h-1zM579 198h1v3h-1zM580 196h1v2h-1zM581 194h1v2h-1zM582 193h1v1h-1zM583 191h1v2h-1zM584 189h1v2h-1zM585 187h1v2h-1zM586 185h1v2h-1zM587 183h1v2h-1zM588 180h1v3h-1zM589 178h1v2h-1zM590 175h1v3h-1zM591 173h1v2h-1zM592 170h1v3h-1zM593 167h1v3h-1zM594 165h1v2h-1zM595 162h1v3h-1zM596 159h1v3h-1zM597 156h1v3h-1zM598 153h1v3h-1zM599 150h1v3h-1zM600 147h1v3h-1zM601 144h1v3h-1zM602 142h1v2h-1zM603 139h1v3h-1zM604 136h1v3h-1zM605 132h1v4h-1zM606 129h1v3h-1zM607 125h1v4h-1zM608 123h1v2h-1zM609 123h1v1h-1zM610 122h1v1h-1zM611 122h1v1h-1zM612 121h1v1h-1zM613 121h1v1h-1zM614 120h1v1h-1zM615 120h1v1h-1zM616 119h1v1h-1zM617 119h1v1h-1zM618 119h1v1h-1zM619 118h1v1h-1zM620 118h1v1h-1zM621 118h1v1h-1zM622 118h1v1h-1zM623 119h1v1h-1zM624 119h1v1h-1zM625 120h1v1h-1zM626 120h1v1h-1zM627 121h1v1h-1zM628 122h1v1h-1zM629 123h1v2h-1zM630 125h1v1h-1zM631 126h1v2h-1zM632 128h1v1h-1zM633 129h1v2h-1zM634 131h1v1h-1zM635 132h1v2h-1zM636 134h1v1h-1zM637 135h1v1h-1zM638 136h1v1h-1zM639 137h1v1h-1zM640 138h1v1h-1zM641 138h1v1h-1zM642 138h1v1h-1zM643 139h1v1h-1zM644 139h1v1h-1zM645 140h1v1h-1zM646 140h1v1h-1zM647 141h1v1h-1zM648 142h1v1h-1zM649 143h1v2h-1zM650 145h1v2h-1zM651 147h1v2h-1zM652 149h1v1h-1zM653 150h1v1h-1zM654 151h1v2h-1zM655 153h1v1h-1zM656 154h1v2h-1zM657 156h1v2h-1zM658 158h1v2h-1zM659 160h1v2h-1zM660 162h1v2h-1zM661 164h1v2h-1zM662 166h1v2h-1zM663 168h1v2h-1zM664 170h1v1h-1zM665 170h1v1h-1zM666 170h1v1h-1zM667 169h1v1h-1zM668 169h1v1h-1zM669 169h1v1h-1zM670 169h1v1h-1zM671 169h1v1h-1zM672 169h1v1h-1zM673 169h1v1h-1zM674 169h1v1h-1zM675 168h1v1h-1zM676 168h1v1h-1zM677 168h1v1h-1zM678 168h1v1h-1zM679 169h1v1h-1zM680 169h1v1h-1zM681 169h1v1h-1zM682 168h1v1h-1zM683 168h1v1h-1zM684 167h1v1h-1zM685 167h1v1h-1zM686 166h1v1h-1zM687 166h1v1h-1zM688 165h1v1h-1zM689 165h1v1h-1zM690 164h1v1h-1zM691 164h1v1h-1zM692 163h1v1h-1zM693 162h1v1h-1zM694 162h1v1h-1zM695 161h1v1h-1zM696 160h1v1h-1zM697 161h1v1h-1zM698 162h1v1h-1zM699 163h1v1h-1zM700 164h1v1h-1zM701 165h1v1h-1zM702 165h1v1h-1zM703 166h1v1h-1zM704 167h1v1h-1zM705 167h1v1h-1zM706 167h1v1h-1zM707 168h1v1h-1zM708 168h1v1h-1zM709 169h1v1h-1zM710 169h1v1h-1zM711 170h1v1h-1zM712 171h1v1h-1zM713 171h1v1h-1zM714 172h1v1h-1zM715 172h1v1h-1zM716 173h1v1h-1zM717 173h1v1h-1zM718 174h1v1h-1zM719 174h1v1h-1zM720 175h1v1h-1zM721 176h1v1h-1zM722 177h1v2h-1zM723 179h1v1h-1zM724 180h1v1h-1zM725 181h1v2h-1zM726 183h1v1h-1zM727 184h1v2h-1zM728 186h1v1h-1zM729 187h1v2h-1zM730 189h1v2h-1zM731 191h1v2h-1zM732 193h1v1h-1zM733 194h1v1h-1zM734 194h1v1h-1zM735 195h1v1h-1zM736 196h1v1h-1zM737 197h1v1h-1zM738 198h1v1h-1zM739 199h1v1h-1zM740 200h1v1h-1zM741 201h1v1h-1zM742 202h1v1h-1zM743 203h1v1h-1zM744 204h1v1h-1zM745 204h1v1h-1zM746 205h1v1h-1zM747 205h1v1h-1zM748 206h1v1h-1zM749 206h1v1h-1zM750 206h1v1h-1zM751 207h1v1h-1zM752 207h1v1h-1zM753 207h1v1h-1zM754 207h1v1h-1zM755 207h1v1h-1zM756 207h1v1h-1zM757 207h1v1h-1zM758 207h1v1h-1zM759 207h1v1h-1zM760 207h1v1h-1zM761 206h1v1h-1zM762 204h1v2h-1zM763 203h1v1h-1zM764 202h1v1h-1zM765 202h1v1h-1zM766 201h1v1h-1zM767 201h1v1h-1zM768 200h1v1h-1zM769 200h1v1h-1zM770 200h1v1h-1zM771 201h1v1h-1zM772 201h1v1h-1zM773 202h1v1h-1zM774 203h1v1h-1zM775 204h1v1h-1zM776 205h1v1h-1zM777 205h1v1h-1zM778 205h1v1h-1zM779 205h1v1h-1zM780 205h1v1h-1zM781 205h1v1h-1zM782 205h1v1h-1zM783 204h1v1h-1zM784 204h1v1h-1zM785 204h1v1h-1zM786 204h1v1h-1zM787 203h1v1h-1zM788 203h1v1h-1zM789 202h1v1h-1zM790 202h1v1h-1zM791 201h1v1h-1zM792 200h1v1h-1zM793 200h1v1h-1zM794 201h1v1h-1zM795 201h1v1h-1zM796 202h1v1h-1zM797 202h1v1h-1zM798 202h1v1h-1zM799 202h1v1h-1zM800 202h1v1h-1zM801 203h1v1h-1zM802 203h1v1h-1zM803 204h1v1h-1zM804 205h1v1h-1zM805 206h1v1h-1zM806 207h1v2h-1zM807 209h1v1h-1zM808 210h1v1h-1zM809 210h1v1h-1zM810 211h1v1h-1zM811 211h1v1h-1zM812 212h1v1h-1zM813 212h1v1h-1zM814 212h1v1h-1zM815 213h1v1h-1zM816 213h1v1h-1zM817 213h1v1h-1zM818 213h1v1h-1zM819 214h1v1h-1zM820 214h1v1h-1zM821 213h1v1h-1zM822 212h1v1h-1zM823 211h1v1h-1zM824 209h1v2h-1zM825 207h1v2h-1zM826 205h1v2h-1zM827 203h1v2h-1zM828 200h1v3h-1zM829 197h1v3h-1zM830 195h1v2h-1zM831 192h1v3h-1zM832 189h1v3h-1zM833 187h1v2h-1zM834 185h1v2h-1zM835 183h1v2h-1zM836 182h1v1h-1zM837 181h1v1h-1zM838 180h1v1h-1zM839 179h1v1h-1zM840 178h1v1h-1zM841 178h1v1h-1zM842 177h1v1h-1zM843 177h1v1h-1zM844 176h1v1h-1zM845 176h1v1h-1zM846 175h1v1h-1zM847 175h1v1h-1zM848 174h1v1h-1zM849 172h1v2h-1zM850 171h1v1h-1zM851 169h1v2h-1zM852 168h1v1h-1zM853 167h1v1h-1zM854 166h1v1h-1zM855 165h1v1h-1zM856 164h1v1h-1zM857 162h1v2h-1zM858 160h1v2h-1zM859 158h1v2h-1zM860 157h1v1h-1zM861 155h1v2h-1zM862 153h1v2h-1zM863 151h1v2h-1zM864 150h1v1h-1zM865 149h1v1h-1zM866 147h1v2h-1zM867 146h1v1h-1zM868 145h1v1h-1zM869 144h1v1h-1zM870 142h1v2h-1zM871 141h1v1h-1zM872 140h1v1h-1zM873 140h1v1h-1zM874 140h1v1h-1zM875 140h1v1h-1zM876 140h1v1h-1zM877 141h1v1h-1zM878 141h1v1h-1zM879 142h1v1h-1zM880 143h1v1h-1zM881 144h1v1h-1zM882 145h1v1h-1zM883 146h1v1h-1zM884 147h1v1h-1zM885 148h1v1h-1zM886 148h1v1h-1zM887 149h1v1h-1zM888 150h1v1h-1zM889 151h1v1h-1zM890 151h1v1h-1zM891 152h1v1h-1zM892 153h1v1h-1zM893 153h1v1h-1zM894 153h1v1h-1zM895 154h1v1h-1zM896 154h1v1h-1zM897 154h1v1h-1zM898 153h1v1h-1zM899 153h1v1h-1zM900 152h1v1h-1zM901 152h1v1h-1zM902 152h1v1h-1zM903 152h1v1h-1zM904 152h1v1h-1zM905 153h1v1h-1zM906 154h1v2h-1zM907 156h1v1h-1zM908 157h1v1h-1zM909 157h1v1h-1zM910 158h1v1h-1zM911 158h1v1h-1zM912 159h1v1h-1zM913 160h1v1h-1zM914 160h1v1h-1zM915 161h1v1h-1zM916 162h1v1h-1zM917 162h1v1h-1zM918 162h1v1h-1zM919 162h1v1h-1zM920 162h1v1h-1zM921 162h1v1h-1zM922 162h1v1h-1zM923 161h1v1h-1zM924 161h1v1h-1z" fill="#ff0000" shape-rendering="crispEdges"/>
<rect x="4" y="101" width="1164" height="2" fill="#ff0000" />
<rect x="4" y="180" width="1164" height="2" fill="#00ff00" />
<rect x="4" y="258" width="1164" height="2" fill="#0000ff" />
<rect x="4" y="333" width="1164" height="2" fill="#0000cd" />
<g shape-rendering="crispEdges">
<rect x="4" y="319" width="1" height="46" fill="#ff0000" />
<rect x="4" y="319" width="1" height="46" fill="#ff0000" />
<rect x="8" y="297" width="1" height="58" fill="#ff0000" />
<rect x="7" y="311" width="3" height="41" fill="#ff0000" />
<rect x="8" y="312" width="1" height="39" fill="#ff4500" />
<rect x="12" y="296" width="1" height="57" fill="#22c822" />
<rect x="11" y="311" width="3" height="34" fill="#22c822" />
<rect x="12" y="312" width="1" height="32" fill="#32cd32" />
<rect x="16" y="343" width="1" height="2" fill="#ff0000" />
<rect x="15" y="343" width="3" height="2" fill="#ff0000" />
<rect x="20" y="330" width="1" height="35" fill="#22c822" />
<rect x="19" y="343" width="3" height="14" fill="#22c822" />
<rect x="20" y="344" width="1" height="12" fill="#32cd32" />
<rect x="24" y="346" width="1" height="31" fill="#22c822" />
<rect x="23" y="355" width="3" height="8" fill="#22c822" />
<rect x="24" y="356" width="1" height="6" fill="#32cd32" />
<rect x="28" y="360" width="1" height="37" fill="#22c822" />
<rect x="27" y="362" width="3" height="9" fill="#22c822" />
<rect x="28" y="363" width="1" height="7" fill="#32cd32" />
<rect x="32" y="345" width="1" height="41" fill="#22c822" />
<rect x="31" y="370" width="3" height="11" fill="#22c822" />
<rect x="32" y="371" width="1" height="9" fill="#32cd32" />
<rect x="36" y="338" width="1" height="53" fill="#ff0000" />
<rect x="35" y="347" width="3" height="35" fill="#ff0000" />
<rect x="36" y="348" width="1" height="33" fill="#ff4500" />
<rect x="40" y="351" width="1" height="5" fill="#22c822" />
<rect x="39" y="353" width="3" height="3" fill="#22c822" />
<rect x="40" y="354" width="1" height="1" fill="#32cd32" />
<rect x="44" y="337" width="1" height="19" fill="#ff0000" />
<rect x="43" y="343" width="3" height="12" fill="#ff0000" />
<rect x="44" y="344" width="1" height="10" fill="#ff4500" />
<rect x="48" y="332" width="1" height="34" fill="#22c822" />
<rect x="47" y="343" width="3" height="7" fill="#22c822" />
<rect x="48" y="344" width="1" height="5" fill="#32cd32" />
<rect x="52" y="267" width="1" height="90" fill="#ff0000" />
<rect x="51" y="270" width="3" height="80" fill="#ff0000" />
<rect x="52" y="271" width="1" height="78" fill="#ff4500" />
<rect x="56" y="191" width="1" height="89" fill="#ff0000" />
<rect x="55" y="199" width="3" height="72" fill="#ff0000" />
<rect x="56" y="200" width="1" height="70" fill="#ff4500" />
<rect x="60" y="157" width="1" height="50" fill="#ff0000" />
<rect x="59" y="167" width="3" height="34" fill="#ff0000" />
<rect x="60" y="168" width="1" height="32" fill="#ff4500" />
<rect x="64" y="161" width="1" height="5" fill="#ff0000" />
<rect x="63" y="162" width="3" height="3" fill="#ff0000" />
<rect x="64" y="163" width="1" height="1" fill="#ff4500" />
<rect x="68" y="153" width="1" height="49" fill="#22c822" />
<rect x="67" y="162" width="3" height="31" fill="#22c822" />
<rect x="68" y="163" width="1" height="29" fill="#32cd32" />
<rect x="72" y="171" width="1" height="33" fill="#ff0000" />
<rect x="71" y="192" width="3" height="1" fill="#ff0000" />
<rect x="76" y="182" width="1" height="36" fill="#22c822" />
<rect x="75" y="192" width="3" height="4" fill="#22c822" />
<rect x="76" y="193" width="1" height="2" fill="#32cd32" />
<rect x="80" y="182" width="1" height="21" fill="#22c822" />
<rect x="79" y="195" width="3" height="2" fill="#22c822" />
<rect x="84" y="195" width="1" height="32" fill="#22c822" />
<rect x="83" y="196" width="3" height="3" fill="#22c822" />
<rect x="84" y="197" width="1" height="1" fill="#32cd32" />
<rect x="88" y="204" width="1" height="4" fill="#22c822" />
<rect x="87" y="206" width="3" height="2" fill="#22c822" />
<rect x="92" y="170" width="1" height="38" fill="#ff0000" />
<rect x="91" y="184" width="3" height="24" fill="#ff0000" />
<rect x="92" y="185" width="1" height="22" fill="#ff4500" />
<rect x="96" y="156" width="1" height="35" fill="#ff0000" />
<rect x="95" y="174" width="3" height="12" fill="#ff0000" />
<rect x="96" y="175" width="1" height="10" fill="#ff4500" />
<rect x="100" y="133" width="1" height="45" fill="#ff0000" />
<rect x="99" y="141" width="3" height="34" fill="#ff0000" />
<rect x="100" y="142" width="1" height="32" fill="#ff4500" />
<rect x="104" y="125" width="1" height="29" fill="#ff0000" />
<rect x="103" y="135" width="3" height="7" fill="#ff0000" />
<rect x="104" y="136" width="1" height="5" fill="#ff4500" />
<rect x="108" y="123" width="1" height="57" fill="#22c822" />
<rect x="107" y="135" width="3" height="43" fill="#22c822" />
<rect x="108" y="136" width="1" height="41" fill="#32cd32" />
<rect x="112" y="167" width="1" height="5" fill="#ff0000" />
<rect x="111" y="168" width="3" height="2" fill="#ff0000" />
<rect x="116" y="156" width="1" height="22" fill="#ff0000" />
<rect x="115" y="164" width="3" height="4" fill="#ff0000" />
<rect x="116" y="165" width="1" height="2" fill="#ff4500" />
<rect x="120" y="141" width="1" height="46" fill="#ff0000" />
<rect x="119" y="144" width="3" height="20" fill="#ff0000" />
<rect x="120" y="145" width="1" height="18" fill="#ff4500" />
<rect x="124" y="128" width="1" height="37" fill="#ff0000" />
<rect x="123" y="137" width="3" height="8" fill="#ff0000" />
<rect x="124" y="138" width="1" height="6" fill="#ff4500" />
<rect x="128" y="134" width="1" height="101" fill="#22c822" />
<rect x="127" y="137" width="3" height="86" fill="#22c822" />
<rect x="128" y="138" width="1" height="84" fill="#32cd32" />
<rect x="132" y="201" width="1" height="29" fill="#22c822" />
<rect x="131" y="222" width="3" height="6" fill="#22c822" />
<rect x="132" y="223" width="1" height="4" fill="#32cd32" />
<rect x="136" y="226" width="1" height="4" fill="#22c822" />
<rect x="135" y="226" width="3" height="3" fill="#22c822" />
<rect x="136" y="227" width="1" height="1" fill="#32cd32" />
<rect x="140" y="204" width="1" height="32" fill="#ff0000" />
<rect x="139" y="220" width="3" height="9" fill="#ff0000" />
<rect x="140" y="221" width="1" height="7" fill="#ff4500" />
<rect x="144" y="179" width="1" height="48" fill="#ff0000" />
<rect x="143" y="190" width="3" height="31" fill="#ff0000" />
<rect x="144" y="191" width="1" height="29" fill="#ff4500" />
<rect x="148" y="182" width="1" height="48" fill="#22c822" />
<rect x="147" y="190" width="3" height="33" fill="#22c822" />
<rect x="148" y="191" width="1" height="31" fill="#32cd32" />
<rect x="152" y="193" width="1" height="54" fill="#ff0000" />
<rect x="151" y="198" width="3" height="25" fill="#ff0000" />
<rect x="152" y="199" width="1" height="23" fill="#ff4500" />
<rect x="156" y="179" width="1" height="24" fill="#ff0000" />
<rect x="155" y="184" width="3" height="15" fill="#ff0000" />
<rect x="156" y="185" width="1" height="13" fill="#ff4500" />
<rect x="160" y="188" width="1" height="6" fill="#22c822" />
<rect x="159" y="188" width="3" height="6" fill="#22c822" />
<rect x="160" y="189" width="1" height="4" fill="#32cd32" />
<rect x="164" y="165" width="1" height="46" fill="#ff0000" />
<rect x="163" y="192" width="3" height="2" fill="#ff0000" />
<rect x="168" y="156" width="1" height="48" fill="#ff0000" />
<rect x="167" y="172" width="3" height="20" fill="#ff0000" />
<rect x="168" y="173" width="1" height="18" fill="#ff4500" />
<rect x="172" y="157" width="1" height="49" fill="#22c822" />
<rect x="171" y="172" width="3" height="28" fill="#22c822" />
<rect x="172" y="173" width="1" height="26" fill="#32cd32" />
<rect x="176" y="180" width="1" height="38" fill="#ff0000" />
<rect x="175" y="188" width="3" height="12" fill="#ff0000" />
<rect x="176" y="189" width="1" height="10" fill="#ff4500" />
<rect x="180" y="164" width="1" height="29" fill="#ff0000" />
<rect x="179" y="180" width="3" height="9" fill="#ff0000" />
<rect x="180" y="181" width="1" height="7" fill="#ff4500" />
<rect x="184" y="184" width="1" height="2" fill="#ff0000" />
<rect x="183" y="185" width="3" height="1" fill="#ff0000" />
<rect x="188" y="181" width="1" height="42" fill="#22c822" />
<rect x="187" y="185" width="3" height="32" fill="#22c822" />
<rect x="188" y="186" width="1" height="30" fill="#32cd32" />
<rect x="192" y="205" width="1" height="33" fill="#22c822" />
<rect x="191" y="216" width="3" height="10" fill="#22c822" />
<rect x="192" y="217" width="1" height="8" fill="#32cd32" />
<rect x="196" y="207" width="1" height="56" fill="#22c822" />
<rect x="195" y="225" width="3" height="36" fill="#22c822" />
<rect x="196" y="226" width="1" height="34" fill="#32cd32" />
<rect x="200" y="259" width="1" height="38" fill="#22c822" />
<rect x="199" y="261" width="3" height="33" fill="#22c822" />
<rect x="200" y="262" width="1" height="31" fill="#32cd32" />
<rect x="204" y="279" width="1" height="29" fill="#ff0000" />
<rect x="203" y="288" width="3" height="6" fill="#ff0000" />
<rect x="204" y="289" width="1" height="4" fill="#ff4500" />
<rect x="208" y="290" width="1" height="4" fill="#ff0000" />
<rect x="207" y="291" width="3" height="3" fill="#ff0000" />
<rect x="208" y="292" width="1" height="1" fill="#ff4500" />
<rect x="212" y="285" width="1" height="25" fill="#22c822" />
<rect x="211" y="291" width="3" height="7" fill="#22c822" />
<rect x="212" y="292" width="1" height="5" fill="#32cd32" />
<rect x="216" y="293" width="1" height="28" fill="#22c822" />
<rect x="215" y="296" width="3" height="13" fill="#22c822" />
<rect x="216" y="297" width="1" height="11" fill="#32cd32" />
<rect x="220" y="278" width="1" height="46" fill="#ff0000" />
<rect x="219" y="286" width="3" height="23" fill="#ff0000" />
<rect x="220" y="287" width="1" height="21" fill="#ff4500" />
<rect x="224" y="277" width="1" height="22" fill="#ff0000" />
<rect x="223" y="285" width="3" height="2" fill="#ff0000" />
<rect x="228" y="216" width="1" height="71" fill="#ff0000" />
<rect x="227" y="219" width="3" height="67" fill="#ff0000" />
<rect x="228" y="220" width="1" height="65" fill="#ff4500" />
<rect x="232" y="210" width="1" height="7" fill="#22c822" />
<rect x="231" y="213" width="3" height="3" fill="#22c822" />
<rect x="232" y="214" width="1" height="1" fill="#32cd32" />
<rect x="236" y="174" width="1" height="51" fill="#ff0000" />
<rect x="235" y="174" width="3" height="42" fill="#ff0000" />
<rect x="236" y="175" width="1" height="40" fill="#ff4500" />
<rect x="240" y="155" width="1" height="31" fill="#ff0000" />
<rect x="239" y="158" width="3" height="17" fill="#ff0000" />
<rect x="240" y="159" width="1" height="15" fill="#ff4500" />
<rect x="244" y="148" width="1" height="32" fill="#22c822" />
<rect x="243" y="158" width="3" height="12" fill="#22c822" />
<rect x="244" y="159" width="1" height="10" fill="#32cd32" />
<rect x="248" y="150" width="1" height="23" fill="#ff0000" />
<rect x="247" y="157" width="3" height="12" fill="#ff0000" />
<rect x="248" y="158" width="1" height="10" fill="#ff4500" />
<rect x="252" y="151" width="1" height="70" fill="#22c822" />
<rect x="251" y="157" width="3" height="63" fill="#22c822" />
<rect x="252" y="158" width="1" height="61" fill="#32cd32" />
<rect x="256" y="216" width="1" height="3" fill="#22c822" />
<rect x="255" y="216" width="3" height="2" fill="#22c822" />
<rect x="260" y="210" width="1" height="43" fill="#22c822" />
<rect x="259" y="217" width="3" height="23" fill="#22c822" />
<rect x="260" y="218" width="1" height="21" fill="#32cd32" />
<rect x="264" y="218" width="1" height="43" fill="#ff0000" />
<rect x="263" y="221" width="3" height="18" fill="#ff0000" />
<rect x="264" y="222" width="1" height="16" fill="#ff4500" />
<rect x="268" y="184" width="1" height="54" fill="#ff0000" />
<rect x="267" y="200" width="3" height="22" fill="#ff0000" />
<rect x="268" y="201" width="1" height="20" fill="#ff4500" />
<rect x="272" y="176" width="1" height="49" fill="#ff0000" />
<rect x="271" y="190" width="3" height="11" fill="#ff0000" />
<rect x="272" y="191" width="1" height="9" fill="#ff4500" />
<rect x="276" y="190" width="1" height="24" fill="#22c822" />
<rect x="275" y="190" width="3" height="11" fill="#22c822" />
<rect x="276" y="191" width="1" height="9" fill="#32cd32" />
<rect x="280" y="199" width="1" height="5" fill="#22c822" />
<rect x="279" y="200" width="3" height="4" fill="#22c822" />
<rect x="280" y="201" width="1" height="2" fill="#32cd32" />
<rect x="284" y="198" width="1" height="46" fill="#22c822" />
<rect x="283" y="203" width="3" height="39" fill="#22c822" />
<rect x="284" y="204" width="1" height="37" fill="#32cd32" />
<rect x="288" y="229" width="1" height="24" fill="#ff0000" />
<rect x="287" y="234" width="3" height="8" fill="#ff0000" />
<rect x="288" y="235" width="1" height="6" fill="#ff4500" />
<rect x="292" y="214" width="1" height="27" fill="#ff0000" />
<rect x="291" y="231" width="3" height="5" fill="#ff0000" />
<rect x="292" y="232" width="1" height="3" fill="#ff4500" />
<rect x="296" y="188" width="1" height="45" fill="#ff0000" />
<rect x="295" y="197" width="3" height="34" fill="#ff0000" />
<rect x="296" y="198" width="1" height="32" fill="#ff4500" />
<rect x="300" y="182" width="1" height="74" fill="#22c822" />
<rect x="299" y="198" width="3" height="52" fill="#22c822" />
<rect x="300" y="199" width="1" height="50" fill="#32cd32" />
<rect x="304" y="248" width="1" height="3" fill="#ff0000" />
<rect x="303" y="248" width="3" height="3" fill="#ff0000" />
<rect x="304" y="249" width="1" height="1" fill="#ff4500" />
<rect x="308" y="193" width="1" height="67" fill="#ff0000" />
<rect x="307" y="203" width="3" height="47" fill="#ff0000" />
<rect x="308" y="204" width="1" height="45" fill="#ff4500" />
<rect x="312" y="202" width="1" height="47" fill="#22c822" />
<rect x="311" y="203" width="3" height="16" fill="#22c822" />
<rect x="312" y="204" width="1" height="14" fill="#32cd32" />
<rect x="316" y="190" width="1" height="40" fill="#ff0000" />
<rect x="315" y="216" width="3" height="2" fill="#ff0000" />
<rect x="320" y="207" width="1" height="24" fill="#22c822" />
<rect x="319" y="216" width="3" height="9" fill="#22c822" />
<rect x="320" y="217" width="1" height="7" fill="#32cd32" />
<rect x="324" y="213" width="1" height="36" fill="#22c822" />
<rect x="323" y="224" width="3" height="11" fill="#22c822" />
<rect x="324" y="225" width="1" height="9" fill="#32cd32" />
<rect x="328" y="227" width="1" height="4" fill="#22c822" />
<rect x="327" y="228" width="3" height="2" fill="#22c822" />
<rect x="332" y="206" width="1" height="25" fill="#ff0000" />
<rect x="331" y="221" width="3" height="10" fill="#ff0000" />
<rect x="332" y="222" width="1" height="8" fill="#ff4500" />
<rect x="336" y="182" width="1" height="53" fill="#ff0000" />
<rect x="335" y="186" width="3" height="36" fill="#ff0000" />
<rect x="336" y="187" width="1" height="34" fill="#ff4500" />
<rect x="340" y="154" width="1" height="41" fill="#ff0000" />
<rect x="339" y="167" width="3" height="18" fill="#ff0000" />
<rect x="340" y="168" width="1" height="16" fill="#ff4500" />
<rect x="344" y="163" width="1" height="51" fill="#22c822" />
<rect x="343" y="166" width="3" height="43" fill="#22c822" />
<rect x="344" y="167" width="1" height="41" fill="#32cd32" />
<rect x="348" y="194" width="1" height="28" fill="#ff0000" />
<rect x="347" y="198" width="3" height="11" fill="#ff0000" />
<rect x="348" y="199" width="1" height="9" fill="#ff4500" />
<rect x="352" y="194" width="1" height="4" fill="#ff0000" />
<rect x="351" y="195" width="3" height="3" fill="#ff0000" />
<rect x="352" y="196" width="1" height="1" fill="#ff4500" />
<rect x="356" y="149" width="1" height="48" fill="#ff0000" />
<rect x="355" y="163" width="3" height="34" fill="#ff0000" />
<rect x="356" y="164" width="1" height="32" fill="#ff4500" />
<rect x="360" y="160" width="1" height="37" fill="#22c822" />
<rect x="359" y="163" width="3" height="18" fill="#22c822" />
<rect x="360" y="164" width="1" height="16" fill="#32cd32" />
<rect x="364" y="177" width="1" height="34" fill="#22c822" />
<rect x="363" y="180" width="3" height="4" fill="#22c822" />
<rect x="364" y="181" width="1" height="2" fill="#32cd32" />
<rect x="368" y="120" width="1" height="67" fill="#ff0000" />
<rect x="367" y="124" width="3" height="60" fill="#ff0000" />
<rect x="368" y="125" width="1" height="58" fill="#ff4500" />
<rect x="372" y="84" width="1" height="52" fill="#ff0000" />
<rect x="371" y="85" width="3" height="40" fill="#ff0000" />
<rect x="372" y="86" width="1" height="38" fill="#ff4500" />
<rect x="376" y="85" width="1" height="3" fill="#22c822" />
<rect x="375" y="86" width="3" height="2" fill="#22c822" />
<rect x="380" y="78" width="1" height="49" fill="#22c822" />
<rect x="379" y="87" width="3" height="35" fill="#22c822" />
<rect x="380" y="88" width="1" height="33" fill="#32cd32" />
<rect x="384" y="116" width="1" height="46" fill="#22c822" />
<rect x="383" y="121" width="3" height="34" fill="#22c822" />
<rect x="384" y="122" width="1" height="32" fill="#32cd32" />
<rect x="388" y="125" width="1" height="45" fill="#ff0000" />
<rect x="387" y="131" width="3" height="25" fill="#ff0000" />
<rect x="388" y="132" width="1" height="23" fill="#ff4500" />
<rect x="392" y="124" width="1" height="45" fill="#22c822" />
<rect x="391" y="132" width="3" height="13" fill="#22c822" />
<rect x="392" y="133" width="1" height="11" fill="#32cd32" />
<rect x="396" y="134" width="1" height="30" fill="#ff0000" />
<rect x="395" y="142" width="3" height="3" fill="#ff0000" />
<rect x="396" y="143" width="1" height="1" fill="#ff4500" />
<rect x="400" y="141" width="1" height="6" fill="#22c822" />
<rect x="399" y="143" width="3" height="3" fill="#22c822" />
<rect x="400" y="144" width="1" height="1" fill="#32cd32" />
<rect x="404" y="110" width="1" height="38" fill="#ff0000" />
<rect x="403" y="137" width="3" height="10" fill="#ff0000" />
<rect x="404" y="138" width="1" height="8" fill="#ff4500" />
<rect x="408" y="103" width="1" height="35" fill="#ff0000" />
<rect x="407" y="110" width="3" height="28" fill="#ff0000" />
<rect x="408" y="111" width="1" height="26" fill="#ff4500" />
<rect x="412" y="60" width="1" height="60" fill="#ff0000" />
<rect x="411" y="69" width="3" height="42" fill="#ff0000" />
<rect x="412" y="70" width="1" height="40" fill="#ff4500" />
<rect x="416" y="50" width="1" height="47" fill="#22c822" />
<rect x="415" y="70" width="3" height="14" fill="#22c822" />
<rect x="416" y="71" width="1" height="12" fill="#32cd32" />
<rect x="420" y="74" width="1" height="44" fill="#22c822" />
<rect x="419" y="83" width="3" height="20" fill="#22c822" />
<rect x="420" y="84" width="1" height="18" fill="#32cd32" />
<rect x="424" y="104" width="1" height="5" fill="#22c822" />
<rect x="423" y="104" width="3" height="3" fill="#22c822" />
<rect x="424" y="105" width="1" height="1" fill="#32cd32" />
<rect x="428" y="95" width="1" height="63" fill="#22c822" />
<rect x="427" y="106" width="3" height="37" fill="#22c822" />
<rect x="428" y="107" width="1" height="35" fill="#32cd32" />
<rect x="432" y="113" width="1" height="33" fill="#ff0000" />
<rect x="431" y="115" width="3" height="28" fill="#ff0000" />
<rect x="432" y="116" width="1" height="26" fill="#ff4500" />
<rect x="436" y="97" width="1" height="30" fill="#22c822" />
<rect x="435" y="115" width="3" height="6" fill="#22c822" />
<rect x="436" y="116" width="1" height="4" fill="#32cd32" />
<rect x="440" y="109" width="1" height="32" fill="#ff0000" />
<rect x="439" y="114" width="3" height="7" fill="#ff0000" />
<rect x="440" y="115" width="1" height="5" fill="#ff4500" />
<rect x="444" y="99" width="1" height="37" fill="#22c822" />
<rect x="443" y="114" width="3" height="17" fill="#22c822" />
<rect x="444" y="115" width="1" height="15" fill="#32cd32" />
<rect x="448" y="120" width="1" height="6" fill="#ff0000" />
<rect x="447" y="120" width="3" height="5" fill="#ff0000" />
<rect x="448" y="121" width="1" height="3" fill="#ff4500" />
<rect x="452" y="113" width="1" height="30" fill="#22c822" />
<rect x="451" y="120" width="3" height="3" fill="#22c822" />
<rect x="452" y="121" width="1" height="1" fill="#32cd32" />
<rect x="456" y="93" width="1" height="44" fill="#ff0000" />
<rect x="455" y="98" width="3" height="25" fill="#ff0000" />
<rect x="456" y="99" width="1" height="23" fill="#ff4500" />
<rect x="460" y="97" width="1" height="59" fill="#22c822" />
<rect x="459" y="98" width="3" height="52" fill="#22c822" />
<rect x="460" y="99" width="1" height="50" fill="#32cd32" />
<rect x="464" y="147" width="1" height="40" fill="#ff0000" />
<rect x="463" y="147" width="3" height="3" fill="#ff0000" />
<rect x="464" y="148" width="1" height="1" fill="#ff4500" />
<rect x="468" y="131" width="1" height="32" fill="#22c822" />
<rect x="467" y="147" width="3" height="14" fill="#22c822" />
<rect x="468" y="148" width="1" height="12" fill="#32cd32" />
<rect x="472" y="154" width="1" height="6" fill="#ff0000" />
<rect x="471" y="154" width="3" height="4" fill="#ff0000" />
<rect x="472" y="155" width="1" height="2" fill="#ff4500" />
<rect x="476" y="124" width="1" height="40" fill="#000" />
<rect x="475" y="154" width="3" height="1" fill="#000" />
<rect x="480" y="154" width="1" height="40" fill="#22c822" />
<rect x="479" y="154" width="3" height="4" fill="#22c822" />
<rect x="480" y="155" width="1" height="2" fill="#32cd32" />
<rect x="484" y="141" width="1" height="52" fill="#22c822" />
<rect x="483" y="158" width="3" height="33" fill="#22c822" />
<rect x="484" y="159" width="1" height="31" fill="#32cd32" />
<rect x="488" y="178" width="1" height="27" fill="#22c822" />
<rect x="487" y="190" width="3" height="7" fill="#22c822" />
<rect x="488" y="191" width="1" height="5" fill="#32cd32" />
<rect x="492" y="193" width="1" height="28" fill="#22c822" />
<rect x="491" y="196" width="3" height="17" fill="#22c822" />
<rect x="492" y="197" width="1" height="15" fill="#32cd32" />
<rect x="496" y="206" width="1" height="7" fill="#ff0000" />
<rect x="495" y="208" width="3" height="5" fill="#ff0000" />
<rect x="496" y="209" width="1" height="3" fill="#ff4500" />
<rect x="500" y="180" width="1" height="42" fill="#ff0000" />
<rect x="499" y="181" width="3" height="28" fill="#ff0000" />
<rect x="500" y="182" width="1" height="26" fill="#ff4500" />
<rect x="504" y="161" width="1" height="32" fill="#22c822" />
<rect x="503" y="181" width="3" height="4" fill="#22c822" />
<rect x="504" y="182" width="1" height="2" fill="#32cd32" />
<rect x="508" y="179" width="1" height="31" fill="#22c822" />
<rect x="507" y="184" width="3" height="13" fill="#22c822" />
<rect x="508" y="185" width="1" height="11" fill="#32cd32" />
<rect x="512" y="186" width="1" height="65" fill="#22c822" />
<rect x="511" y="196" width="3" height="51" fill="#22c822" />
<rect x="512" y="197" width="1" height="49" fill="#32cd32" />
<rect x="516" y="200" width="1" height="59" fill="#ff0000" />
<rect x="515" y="217" width="3" height="30" fill="#ff0000" />
<rect x="516" y="218" width="1" height="28" fill="#ff4500" />
<rect x="520" y="210" width="1" height="7" fill="#ff0000" />
<rect x="519" y="211" width="3" height="5" fill="#ff0000" />
<rect x="520" y="212" width="1" height="3" fill="#ff4500" />
<rect x="524" y="204" width="1" height="66" fill="#22c822" />
<rect x="523" y="212" width="3" height="54" fill="#22c822" />
<rect x="524" y="213" width="1" height="52" fill="#32cd32" />
<rect x="528" y="220" width="1" height="48" fill="#ff0000" />
<rect x="527" y="222" width="3" height="44" fill="#ff0000" />
<rect x="528" y="223" width="1" height="42" fill="#ff4500" />
<rect x="532" y="220" width="1" height="37" fill="#22c822" />
<rect x="531" y="222" width="3" height="28" fill="#22c822" />
<rect x="532" y="223" width="1" height="26" fill="#32cd32" />
<rect x="536" y="225" width="1" height="27" fill="#ff0000" />
<rect x="535" y="239" width="3" height="12" fill="#ff0000" />
<rect x="536" y="240" width="1" height="10" fill="#ff4500" />
<rect x="540" y="201" width="1" height="50" fill="#22c822" />
<rect x="539" y="239" width="3" height="1" fill="#22c822" />
<rect x="544" y="241" width="1" height="6" fill="#22c822" />
<rect x="543" y="244" width="3" height="1" fill="#22c822" />
<rect x="548" y="215" width="1" height="30" fill="#ff0000" />
<rect x="547" y="233" width="3" height="12" fill="#ff0000" />
<rect x="548" y="234" width="1" height="10" fill="#ff4500" />
<rect x="552" y="218" width="1" height="41" fill="#22c822" />
<rect x="551" y="233" width="3" height="20" fill="#22c822" />
<rect x="552" y="234" width="1" height="18" fill="#32cd32" />
<rect x="556" y="192" width="1" height="62" fill="#ff0000" />
<rect x="555" y="197" width="3" height="56" fill="#ff0000" />
<rect x="556" y="198" width="1" height="54" fill="#ff4500" />
<rect x="560" y="162" width="1" height="37" fill="#ff0000" />
<rect x="559" y="172" width="3" height="26" fill="#ff0000" />
<rect x="560" y="173" width="1" height="24" fill="#ff4500" />
<rect x="564" y="152" width="1" height="29" fill="#22c822" />
<rect x="563" y="172" width="3" height="4" fill="#22c822" />
<rect x="564" y="173" width="1" height="2" fill="#32cd32" />
<rect x="568" y="171" width="1" height="5" fill="#ff0000" />
<rect x="567" y="173" width="3" height="1" fill="#ff0000" />
<rect x="572" y="136" width="1" height="57" fill="#ff0000" />
<rect x="571" y="140" width="3" height="34" fill="#ff0000" />
<rect x="572" y="141" width="1" height="32" fill="#ff4500" />
<rect x="576" y="94" width="1" height="59" fill="#ff0000" />
<rect x="575" y="100" width="3" height="40" fill="#ff0000" />
<rect x="576" y="101" width="1" height="38" fill="#ff4500" />
<rect x="580" y="80" width="1" height="43" fill="#22c822" />
<rect x="579" y="100" width="3" height="15" fill="#22c822" />
<rect x="580" y="101" width="1" height="13" fill="#32cd32" />
<rect x="584" y="110" width="1" height="33" fill="#22c822" />
<rect x="583" y="114" width="3" height="23" fill="#22c822" />
<rect x="584" y="115" width="1" height="21" fill="#32cd32" />
<rect x="588" y="111" width="1" height="32" fill="#ff0000" />
<rect x="587" y="115" width="3" height="22" fill="#ff0000" />
<rect x="588" y="116" width="1" height="20" fill="#ff4500" />
<rect x="592" y="107" width="1" height="9" fill="#ff0000" />
<rect x="591" y="109" width="3" height="6" fill="#ff0000" />
<rect x="592" y="110" width="1" height="4" fill="#ff4500" />
<rect x="596" y="76" width="1" height="54" fill="#ff0000" />
<rect x="595" y="83" width="3" height="26" fill="#ff0000" />
<rect x="596" y="84" width="1" height="24" fill="#ff4500" />
<rect x="600" y="69" width="1" height="33" fill="#ff0000" />
<rect x="599" y="76" width="3" height="7" fill="#ff0000" />
<rect x="600" y="77" width="1" height="5" fill="#ff4500" />
<rect x="604" y="46" width="1" height="36" fill="#ff0000" />
<rect x="603" y="71" width="3" height="6" fill="#ff0000" />
<rect x="604" y="72" width="1" height="4" fill="#ff4500" />
<rect x="608" y="55" width="1" height="30" fill="#ff0000" />
<rect x="607" y="62" width="3" height="10" fill="#ff0000" />
<rect x="608" y="63" width="1" height="8" fill="#ff4500" />
<rect x="612" y="60" width="1" height="111" fill="#22c822" />
<rect x="611" y="61" width="3" height="109" fill="#22c822" />
<rect x="612" y="62" width="1" height="107" fill="#32cd32" />
<rect x="616" y="140" width="1" height="24" fill="#ff0000" />
<rect x="615" y="147" width="3" height="13" fill="#ff0000" />
<rect x="616" y="148" width="1" height="11" fill="#ff4500" />
<rect x="620" y="125" width="1" height="37" fill="#22c822" />
<rect x="619" y="147" width="3" height="13" fill="#22c822" />
<rect x="620" y="148" width="1" height="11" fill="#32cd32" />
<rect x="624" y="130" width="1" height="86" fill="#22c822" />
<rect x="623" y="159" width="3" height="27" fill="#22c822" />
<rect x="624" y="160" width="1" height="25" fill="#32cd32" />
<rect x="628" y="168" width="1" height="39" fill="#ff0000" />
<rect x="627" y="177" width="3" height="9" fill="#ff0000" />
<rect x="628" y="178" width="1" height="7" fill="#ff4500" />
<rect x="632" y="165" width="1" height="35" fill="#22c822" />
<rect x="631" y="177" width="3" height="7" fill="#22c822" />
<rect x="632" y="178" width="1" height="5" fill="#32cd32" />
<rect x="636" y="168" width="1" height="41" fill="#22c822" />
<rect x="635" y="183" width="3" height="18" fill="#22c822" />
<rect x="636" y="184" width="1" height="16" fill="#32cd32" />
<rect x="640" y="192" width="1" height="13" fill="#ff0000" />
<rect x="639" y="193" width="3" height="12" fill="#ff0000" />
<rect x="640" y="194" width="1" height="10" fill="#ff4500" />
<rect x="644" y="128" width="1" height="66" fill="#ff0000" />
<rect x="643" y="138" width="3" height="56" fill="#ff0000" />
<rect x="644" y="139" width="1" height="54" fill="#ff4500" />
<rect x="648" y="123" width="1" height="35" fill="#22c822" />
<rect x="647" y="137" width="3" height="9" fill="#22c822" />
<rect x="648" y="138" width="1" height="7" fill="#32cd32" />
<rect x="652" y="140" width="1" height="48" fill="#22c822" />
<rect x="651" y="146" width="3" height="36" fill="#22c822" />
<rect x="652" y="147" width="1" height="34" fill="#32cd32" />
<rect x="656" y="131" width="1" height="51" fill="#ff0000" />
<rect x="655" y="152" width="3" height="29" fill="#ff0000" />
<rect x="656" y="153" width="1" height="27" fill="#ff4500" />
<rect x="660" y="140" width="1" height="43" fill="#22c822" />
<rect x="659" y="152" width="3" height="24" fill="#22c822" />
<rect x="660" y="153" width="1" height="22" fill="#32cd32" />
<rect x="664" y="170" width="1" height="11" fill="#ff0000" />
<rect x="663" y="170" width="3" height="11" fill="#ff0000" />
<rect x="664" y="171" width="1" height="9" fill="#ff4500" />
<rect x="668" y="137" width="1" height="41" fill="#ff0000" />
<rect x="667" y="163" width="3" height="9" fill="#ff0000" />
<rect x="668" y="164" width="1" height="7" fill="#ff4500" />
<rect x="672" y="146" width="1" height="46" fill="#ff0000" />
<rect x="671" y="149" width="3" height="15" fill="#ff0000" />
<rect x="672" y="150" width="1" height="13" fill="#ff4500" />
<rect x="676" y="108" width="1" height="48" fill="#ff0000" />
<rect x="675" y="147" width="3" height="3" fill="#ff0000" />
<rect x="676" y="148" width="1" height="1" fill="#ff4500" />
<rect x="680" y="137" width="1" height="54" fill="#22c822" />
<rect x="679" y="147" width="3" height="43" fill="#22c822" />
<rect x="680" y="148" width="1" height="41" fill="#32cd32" />
<rect x="684" y="146" width="1" height="56" fill="#ff0000" />
<rect x="683" y="152" width="3" height="38" fill="#ff0000" />
<rect x="684" y="153" width="1" height="36" fill="#ff4500" />
<rect x="688" y="146" width="1" height="11" fill="#22c822" />
<rect x="687" y="147" width="3" height="9" fill="#22c822" />
<rect x="688" y="148" width="1" height="7" fill="#32cd32" />
<rect x="692" y="142" width="1" height="46" fill="#22c822" />
<rect x="691" y="155" width="3" height="14" fill="#22c822" />
<rect x="692" y="156" width="1" height="12" fill="#32cd32" />
<rect x="696" y="139" width="1" height="47" fill="#ff0000" />
<rect x="695" y="158" width="3" height="11" fill="#ff0000" />
<rect x="696" y="159" width="1" height="9" fill="#ff4500" />
<rect x="700" y="141" width="1" height="49" fill="#22c822" />
<rect x="699" y="158" width="3" height="29" fill="#22c822" />
<rect x="700" y="159" width="1" height="27" fill="#32cd32" />
<rect x="704" y="166" width="1" height="36" fill="#22c822" />
<rect x="703" y="185" width="3" height="11" fill="#22c822" />
<rect x="704" y="186" width="1" height="9" fill="#32cd32" />
<rect x="708" y="184" width="1" height="26" fill="#ff0000" />
<rect x="707" y="192" width="3" height="4" fill="#ff0000" />
<rect x="708" y="193" width="1" height="2" fill="#ff4500" />
<rect x="712" y="190" width="1" height="12" fill="#ff0000" />
<rect x="711" y="190" width="3" height="4" fill="#ff0000" />
<rect x="712" y="191" width="1" height="2" fill="#ff4500" />
<rect x="716" y="182" width="1" height="26" fill="#22c822" />
<rect x="715" y="190" width="3" height="15" fill="#22c822" />
<rect x="716" y="191" width="1" height="13" fill="#32cd32" />
<rect x="720" y="189" width="1" height="25" fill="#22c822" />
<rect x="719" y="204" width="3" height="1" fill="#22c822" />
<rect x="724" y="182" width="1" height="58" fill="#22c822" />
<rect x="723" y="204" width="3" height="26" fill="#22c822" />
<rect x="724" y="205" width="1" height="24" fill="#32cd32" />
<rect x="728" y="196" width="1" height="40" fill="#000" />
<rect x="727" y="229" width="3" height="1" fill="#000" />
<rect x="732" y="222" width="1" height="37" fill="#22c822" />
<rect x="731" y="229" width="3" height="17" fill="#22c822" />
<rect x="732" y="230" width="1" height="15" fill="#32cd32" />
<rect x="736" y="240" width="1" height="18" fill="#ff0000" />
<rect x="735" y="244" width="3" height="14" fill="#ff0000" />
<rect x="736" y="245" width="1" height="12" fill="#ff4500" />
<rect x="740" y="182" width="1" height="66" fill="#ff0000" />
<rect x="739" y="194" width="3" height="51" fill="#ff0000" />
<rect x="740" y="195" width="1" height="49" fill="#ff4500" />
<rect x="744" y="187" width="1" height="45" fill="#22c822" />
<rect x="743" y="194" width="3" height="18" fill="#22c822" />
<rect x="744" y="195" width="1" height="16" fill="#32cd32" />
<rect x="748" y="194" width="1" height="35" fill="#ff0000" />
<rect x="747" y="202" width="3" height="10" fill="#ff0000" />
<rect x="748" y="203" width="1" height="8" fill="#ff4500" />
<rect x="752" y="163" width="1" height="44" fill="#ff0000" />
<rect x="751" y="170" width="3" height="33" fill="#ff0000" />
<rect x="752" y="171" width="1" height="31" fill="#ff4500" />
<rect x="756" y="156" width="1" height="39" fill="#22c822" />
<rect x="755" y="170" width="3" height="25" fill="#22c822" />
<rect x="756" y="171" width="1" height="23" fill="#32cd32" />
<rect x="760" y="187" width="1" height="6" fill="#ff0000" />
<rect x="759" y="190" width="3" height="3" fill="#ff0000" />
<rect x="760" y="191" width="1" height="1" fill="#ff4500" />
<rect x="764" y="123" width="1" height="68" fill="#ff0000" />
<rect x="763" y="125" width="3" height="66" fill="#ff0000" />
<rect x="764" y="126" width="1" height="64" fill="#ff4500" />
<rect x="768" y="120" width="1" height="38" fill="#22c822" />
<rect x="767" y="125" width="3" height="30" fill="#22c822" />
<rect x="768" y="126" width="1" height="28" fill="#32cd32" />
<rect x="772" y="147" width="1" height="90" fill="#22c822" />
<rect x="771" y="154" width="3" height="74" fill="#22c822" />
<rect x="772" y="155" width="1" height="72" fill="#32cd32" />
<rect x="776" y="222" width="1" height="45" fill="#22c822" />
<rect x="775" y="227" width="3" height="25" fill="#22c822" />
<rect x="776" y="228" width="1" height="23" fill="#32cd32" />
<rect x="780" y="227" width="1" height="38" fill="#ff0000" />
<rect x="779" y="230" width="3" height="22" fill="#ff0000" />
<rect x="780" y="231" width="1" height="20" fill="#ff4500" />
<rect x="784" y="222" width="1" height="15" fill="#ff0000" />
<rect x="783" y="225" width="3" height="12" fill="#ff0000" />
<rect x="784" y="226" width="1" height="10" fill="#ff4500" />
<rect x="788" y="214" width="1" height="30" fill="#22c822" />
<rect x="787" y="225" width="3" height="5" fill="#22c822" />
<rect x="788" y="226" width="1" height="3" fill="#32cd32" />
<rect x="792" y="198" width="1" height="38" fill="#ff0000" />
<rect x="791" y="204" width="3" height="26" fill="#ff0000" />
<rect x="792" y="205" width="1" height="24" fill="#ff4500" />
<rect x="796" y="199" width="1" height="27" fill="#22c822" />
<rect x="795" y="204" width="3" height="13" fill="#22c822" />
<rect x="796" y="205" width="1" height="11" fill="#32cd32" />
<rect x="800" y="196" width="1" height="34" fill="#ff0000" />
<rect x="799" y="206" width="3" height="11" fill="#ff0000" />
<rect x="800" y="207" width="1" height="9" fill="#ff4500" />
<rect x="804" y="204" width="1" height="50" fill="#22c822" />
<rect x="803" y="206" width="3" height="42" fill="#22c822" />
<rect x="804" y="207" width="1" height="40" fill="#32cd32" />
<rect x="808" y="239" width="1" height="12" fill="#ff0000" />
<rect x="807" y="239" width="3" height="12" fill="#ff0000" />
<rect x="808" y="240" width="1" height="10" fill="#ff4500" />
<rect x="812" y="214" width="1" height="40" fill="#ff0000" />
<rect x="811" y="227" width="3" height="13" fill="#ff0000" />
<rect x="812" y="228" width="1" height="11" fill="#ff4500" />
<rect x="816" y="179" width="1" height="50" fill="#ff0000" />
<rect x="815" y="198" width="3" height="31" fill="#ff0000" />
<rect x="816" y="199" width="1" height="29" fill="#ff4500" />
<rect x="820" y="146" width="1" height="60" fill="#ff0000" />
<rect x="819" y="150" width="3" height="49" fill="#ff0000" />
<rect x="820" y="151" width="1" height="47" fill="#ff4500" />
<rect x="824" y="74" width="1" height="79" fill="#ff0000" />
<rect x="823" y="95" width="3" height="56" fill="#ff0000" />
<rect x="824" y="96" width="1" height="54" fill="#ff4500" />
<rect x="828" y="80" width="1" height="32" fill="#22c822" />
<rect x="827" y="95" width="3" height="1" fill="#22c822" />
<rect x="832" y="89" width="1" height="10" fill="#ff0000" />
<rect x="831" y="94" width="3" height="5" fill="#ff0000" />
<rect x="832" y="95" width="1" height="3" fill="#ff4500" />
<rect x="836" y="70" width="1" height="72" fill="#22c822" />
<rect x="835" y="94" width="3" height="33" fill="#22c822" />
<rect x="836" y="95" width="1" height="31" fill="#32cd32" />
<rect x="840" y="121" width="1" height="57" fill="#22c822" />
<rect x="839" y="126" width="3" height="48" fill="#22c822" />
<rect x="840" y="127" width="1" height="46" fill="#32cd32" />
<rect x="844" y="164" width="1" height="36" fill="#22c822" />
<rect x="843" y="173" width="3" height="17" fill="#22c822" />
<rect x="844" y="174" width="1" height="15" fill="#32cd32" />
<rect x="848" y="154" width="1" height="46" fill="#ff0000" />
<rect x="847" y="179" width="3" height="10" fill="#ff0000" />
<rect x="848" y="180" width="1" height="8" fill="#ff4500" />
<rect x="852" y="136" width="1" height="52" fill="#ff0000" />
<rect x="851" y="138" width="3" height="41" fill="#ff0000" />
<rect x="852" y="139" width="1" height="39" fill="#ff4500" />
<rect x="856" y="137" width="1" height="7" fill="#22c822" />
<rect x="855" y="138" width="3" height="4" fill="#22c822" />
<rect x="856" y="139" width="1" height="2" fill="#32cd32" />
<rect x="860" y="133" width="1" height="33" fill="#22c822" />
<rect x="859" y="141" width="3" height="18" fill="#22c822" />
<rect x="860" y="142" width="1" height="16" fill="#32cd32" />
<rect x="864" y="132" width="1" height="30" fill="#ff0000" />
<rect x="863" y="142" width="3" height="16" fill="#ff0000" />
<rect x="864" y="143" width="1" height="14" fill="#ff4500" />
<rect x="868" y="139" width="1" height="26" fill="#22c822" />
<rect x="867" y="142" width="3" height="7" fill="#22c822" />
<rect x="868" y="143" width="1" height="5" fill="#32cd32" />
<rect x="872" y="105" width="1" height="57" fill="#ff0000" />
<rect x="871" y="136" width="3" height="13" fill="#ff0000" />
<rect x="872" y="137" width="1" height="11" fill="#ff4500" />
<rect x="876" y="113" width="1" height="37" fill="#22c822" />
<rect x="875" y="136" width="3" height="5" fill="#22c822" />
<rect x="876" y="137" width="1" height="3" fill="#32cd32" />
<rect x="880" y="139" width="1" height="8" fill="#ff0000" />
<rect x="879" y="144" width="3" height="3" fill="#ff0000" />
<rect x="880" y="145" width="1" height="1" fill="#ff4500" />
<rect x="884" y="125" width="1" height="28" fill="#22c822" />
<rect x="883" y="145" width="3" height="2" fill="#22c822" />
<rect x="888" y="124" width="1" height="29" fill="#ff0000" />
<rect x="887" y="138" width="3" height="9" fill="#ff0000" />
<rect x="888" y="139" width="1" height="7" fill="#ff4500" />
<rect x="892" y="134" width="1" height="44" fill="#22c822" />
<rect x="891" y="138" width="3" height="30" fill="#22c822" />
<rect x="892" y="139" width="1" height="28" fill="#32cd32" />
<rect x="896" y="159" width="1" height="33" fill="#22c822" />
<rect x="895" y="167" width="3" height="17" fill="#22c822" />
<rect x="896" y="168" width="1" height="15" fill="#32cd32" />
<rect x="900" y="167" width="1" height="22" fill="#ff0000" />
<rect x="899" y="173" width="3" height="10" fill="#ff0000" />
<rect x="900" y="174" width="1" height="8" fill="#ff4500" />
<rect x="904" y="170" width="1" height="7" fill="#22c822" />
<rect x="903" y="173" width="3" height="2" fill="#22c822" />
<rect x="908" y="169" width="1" height="52" fill="#22c822" />
<rect x="907" y="174" width="3" height="41" fill="#22c822" />
<rect x="908" y="175" width="1" height="39" fill="#32cd32" />
<rect x="912" y="159" width="1" height="62" fill="#ff0000" />
<rect x="911" y="169" width="3" height="46" fill="#ff0000" />
<rect x="912" y="170" width="1" height="44" fill="#ff4500" />
<rect x="916" y="167" width="1" height="40" fill="#22c822" />
<rect x="915" y="169" width="3" height="33" fill="#22c822" />
<rect x="916" y="170" width="1" height="31" fill="#32cd32" />
<rect x="920" y="112" width="1" height="92" fill="#ff0000" />
<rect x="919" y="136" width="3" height="66" fill="#ff0000" />
<rect x="920" y="137" width="1" height="64" fill="#ff4500" />
<rect x="924" y="116" width="1" height="44" fill="#ff0000" />
<rect x="923" y="131" width="3" height="7" fill="#ff0000" />
<rect x="924" y="132" width="1" height="5" fill="#ff4500" />
</g>
<g shape-rendering="crispEdges">
<rect x="4" y="446" width="2" height="22" fill="#c0c0c0" />
<rect x="7" y="446" width="3" height="18" fill="#c0c0c0" />
<rect x="11" y="446" width="3" height="17" fill="#c0c0c0" />
<rect x="15" y="446" width="3" height="16" fill="#c0c0c0" />
<rect x="19" y="446" width="3" height="16" fill="#c0c0c0" />
<rect x="23" y="446" width="3" height="16" fill="#c0c0c0" />
<rect x="27" y="446" width="3" height="16" fill="#c0c0c0" />
<rect x="31" y="446" width="3" height="17" fill="#c0c0c0" />
<rect x="35" y="446" width="3" height="15" fill="#c0c0c0" />
<rect x="39" y="446" width="3" height="14" fill="#c0c0c0" />
<rect x="43" y="446" width="3" height="12" fill="#c0c0c0" />
<rect x="47" y="446" width="3" height="11" fill="#c0c0c0" />
<rect x="51" y="446" width="3" height="5" fill="#c0c0c0" />
<rect x="55" y="442" width="3" height="4" fill="#c0c0c0" />
<rect x="59" y="432" width="3" height="14" fill="#c0c0c0" />
<rect x="63" y="425" width="3" height="21" fill="#c0c0c0" />
<rect x="67" y="421" width="3" height="25" fill="#c0c0c0" />
<rect x="71" y="418" width="3" height="28" fill="#c0c0c0" />
<rect x="75" y="417" width="3" height="29" fill="#c0c0c0" />
<rect x="79" y="416" width="3" height="30" fill="#c0c0c0" />
<rect x="83" y="416" width="3" height="30" fill="#c0c0c0" />
<rect x="87" y="417" width="3" height="29" fill="#c0c0c0" />
<rect x="91" y="416" width="3" height="30" fill="#c0c0c0" />
<rect x="95" y="416" width="3" height="30" fill="#c0c0c0" />
<rect x="99" y="413" width="3" height="33" fill="#c0c0c0" />
<rect x="103" y="411" width="3" height="35" fill="#c0c0c0" />
<rect x="107" y="413" width="3" height="33" fill="#c0c0c0" />
<rect x="111" y="414" width="3" height="32" fill="#c0c0c0" />
<rect x="115" y="415" width="3" height="31" fill="#c0c0c0" />
<rect x="119" y="415" width="3" height="31" fill="#c0c0c0" />
<rect x="123" y="415" width="3" height="31" fill="#c0c0c0" />
<rect x="127" y="420" width="3" height="26" fill="#c0c0c0" />
<rect x="131" y="425" width="3" height="21" fill="#c0c0c0" />
<rect x="135" y="430" width="3" height="16" fill="#c0c0c0" />
<rect x="139" y="433" width="3" height="13" fill="#c0c0c0" />
<rect x="143" y="433" width="3" height="13" fill="#c0c0c0" />
<rect x="147" y="436" width="3" height="10" fill="#c0c0c0" />
<rect x="151" y="437" width="3" height="9" fill="#c0c0c0" />
<rect x="155" y="436" width="3" height="10" fill="#c0c0c0" />
<rect x="159" y="437" width="3" height="9" fill="#c0c0c0" />
<rect x="163" y="437" width="3" height="9" fill="#c0c0c0" />
<rect x="167" y="436" width="3" height="10" fill="#c0c0c0" />
<rect x="171" y="438" width="3" height="8" fill="#c0c0c0" />
<rect x="175" y="438" width="3" height="8" fill="#c0c0c0" />
<rect x="179" y="438" width="3" height="8" fill="#c0c0c0" />
<rect x="183" y="438" width="3" height="8" fill="#c0c0c0" />
<rect x="187" y="440" width="3" height="6" fill="#c0c0c0" />
<rect x="191" y="443" width="3" height="3" fill="#c0c0c0" />
<rect x="195" y="446" width="3" height="1" fill="#c0c0c0" />
<rect x="199" y="446" width="3" height="7" fill="#c0c0c0" />
<rect x="203" y="446" width="3" height="10" fill="#c0c0c0" />
<rect x="207" y="446" width="3" height="14" fill="#c0c0c0" />
<rect x="211" y="446" width="3" height="16" fill="#c0c0c0" />
<rect x="215" y="446" width="3" height="19" fill="#c0c0c0" />
<rect x="219" y="446" width="3" height="19" fill="#c0c0c0" />
<rect x="223" y="446" width="3" height="19" fill="#c0c0c0" />
<rect x="227" y="446" width="3" height="15" fill="#c0c0c0" />
<rect x="231" y="446" width="3" height="11" fill="#c0c0c0" />
<rect x="235" y="446" width="3" height="5" fill="#c0c0c0" />
<rect x="239" y="446" width="3" height="1" fill="#c0c0c0" />
<rect x="243" y="442" width="3" height="4" fill="#c0c0c0" />
<rect x="247" y="438" width="3" height="8" fill="#c0c0c0" />
<rect x="251" y="439" width="3" height="7" fill="#c0c0c0" />
<rect x="255" y="440" width="3" height="6" fill="#c0c0c0" />
<rect x="259" y="443" width="3" height="3" fill="#c0c0c0" />
<rect x="263" y="443" width="3" height="3" fill="#c0c0c0" />
<rect x="267" y="442" width="3" height="4" fill="#c0c0c0" />
<rect x="271" y="441" width="3" height="5" fill="#c0c0c0" />
<rect x="275" y="441" width="3" height="5" fill="#c0c0c0" />
<rect x="279" y="441" width="3" height="5" fill="#c0c0c0" />
<rect x="283" y="443" width="3" height="3" fill="#c0c0c0" />
<rect x="287" y="445" width="3" height="1" fill="#c0c0c0" />
<rect x="291" y="446" width="3" height="1" fill="#c0c0c0" />
<rect x="295" y="445" width="3" height="1" fill="#c0c0c0" />
<rect x="299" y="446" width="3" height="1" fill="#c0c0c0" />
<rect x="303" y="446" width="3" height="3" fill="#c0c0c0" />
<rect x="307" y="446" width="3" height="1" fill="#c0c0c0" />
<rect x="311" y="446" width="3" height="1" fill="#c0c0c0" />
<rect x="315" y="446" width="3" height="1" fill="#c0c0c0" />
<rect x="319" y="446" width="3" height="1" fill="#c0c0c0" />
<rect x="323" y="446" width="3" height="2" fill="#c0c0c0" />
<rect x="327" y="446" width="3" height="2" fill="#c0c0c0" />
<rect x="331" y="446" width="3" height="2" fill="#c0c0c0" />
<rect x="335" y="445" width="3" height="1" fill="#c0c0c0" />
<rect x="339" y="442" width="3" height="4" fill="#c0c0c0" />
<rect x="343" y="442" width="3" height="4" fill="#c0c0c0" />
<rect x="347" y="442" width="3" height="4" fill="#c0c0c0" />
<rect x="351" y="441" width="3" height="5" fill="#c0c0c0" />
<rect x="355" y="439" width="3" height="7" fill="#c0c0c0" />
<rect x="359" y="438" width="3" height="8" fill="#c0c0c0" />
<rect x="363" y="438" width="3" height="8" fill="#c0c0c0" />
<rect x="367" y="434" width="3" height="12" fill="#c0c0c0" />
<rect x="371" y="429" width="3" height="17" fill="#c0c0c0" />
<rect x="375" y="425" width="3" height="21" fill="#c0c0c0" />
<rect x="379" y="424" width="3" height="22" fill="#c0c0c0" />
<rect x="383" y="426" width="3" height="20" fill="#c0c0c0" />
<rect x="387" y="426" width="3" height="20" fill="#c0c0c0" />
<rect x="391" y="427" width="3" height="19" fill="#c0c0c0" />
<rect x="395" y="428" width="3" height="18" fill="#c0c0c0" />
<rect x="399" y="430" width="3" height="16" fill="#c0c0c0" />
<rect x="403" y="430" width="3" height="16" fill="#c0c0c0" />
<rect x="407" y="429" width="3" height="17" fill="#c0c0c0" />
<rect x="411" y="426" width="3" height="20" fill="#c0c0c0" />
<rect x="415" y="424" width="3" height="22" fill="#c0c0c0" />
<rect x="419" y="425" width="3" height="21" fill="#c0c0c0" />
<rect x="423" y="426" width="3" height="20" fill="#c0c0c0" />
<rect x="427" y="429" width="3" height="17" fill="#c0c0c0" />
<rect x="431" y="430" width="3" height="16" fill="#c0c0c0" />
<rect x="435" y="431" width="3" height="15" fill="#c0c0c0" />
<rect x="439" y="432" width="3" height="14" fill="#c0c0c0" />
<rect x="443" y="434" width="3" height="12" fill="#c0c0c0" />
<rect x="447" y="434" width="3" height="12" fill="#c0c0c0" />
<rect x="451" y="435" width="3" height="11" fill="#c0c0c0" />
<rect x="455" y="435" width="3" height="11" fill="#c0c0c0" />
<rect x="459" y="438" width="3" height="8" fill="#c0c0c0" />
<rect x="463" y="440" width="3" height="6" fill="#c0c0c0" />
<rect x="467" y="443" width="3" height="3" fill="#c0c0c0" />
<rect x="471" y="444" width="3" height="2" fill="#c0c0c0" />
<rect x="475" y="446" width="3" height="1" fill="#c0c0c0" />
<rect x="479" y="446" width="3" height="1" fill="#c0c0c0" />
<rect x="483" y="446" width="3" height="4" fill="#c0c0c0" />
<rect x="487" y="446" width="3" height="7" fill="#c0c0c0" />
<rect x="491" y="446" width="3" height="10" fill="#c0c0c0" />
<rect x="495" y="446" width="3" height="12" fill="#c0c0c0" />
<rect x="499" y="446" width="3" height="12" fill="#c0c0c0" />
<rect x="503" y="446" width="3" height="12" fill="#c0c0c0" />
<rect x="507" y="446" width="3" height="13" fill="#c0c0c0" />
<rect x="511" y="446" width="3" height="16" fill="#c0c0c0" />
<rect x="515" y="446" width="3" height="17" fill="#c0c0c0" />
<rect x="519" y="446" width="3" height="17" fill="#c0c0c0" />
<rect x="523" y="446" width="3" height="20" fill="#c0c0c0" />
<rect x="527" y="446" width="3" height="20" fill="#c0c0c0" />
<rect x="531" y="446" width="3" height="21" fill="#c0c0c0" />
<rect x="535" y="446" width="3" height="21" fill="#c0c0c0" />
<rect x="539" y="446" width="3" height="21" fill="#c0c0c0" />
<rect x="543" y="446" width="3" height="21" fill="#c0c0c0" />
<rect x="547" y="446" width="3" height="20" fill="#c0c0c0" />
<rect x="551" y="446" width="3" height="20" fill="#c0c0c0" />
<rect x="555" y="446" width="3" height="16" fill="#c0c0c0" />
<rect x="559" y="446" width="3" height="12" fill="#c0c0c0" />
<rect x="563" y="446" width="3" height="8" fill="#c0c0c0" />
<rect x="567" y="446" width="3" height="5" fill="#c0c0c0" />
<rect x="571" y="446" width="3" height="1" fill="#c0c0c0" />
<rect x="575" y="440" width="3" height="6" fill="#c0c0c0" />
<rect x="579" y="437" width="3" height="9" fill="#c0c0c0" />
<rect x="583" y="435" width="3" height="11" fill="#c0c0c0" />
<rect x="587" y="433" width="3" height="13" fill="#c0c0c0" />
<rect x="591" y="431" width="3" height="15" fill="#c0c0c0" />
<rect x="595" y="427" width="3" height="19" fill="#c0c0c0" />
<rect x="599" y="425" width="3" height="21" fill="#c0c0c0" />
<rect x="603" y="422" width="3" height="24" fill="#c0c0c0" />
<rect x="607" y="420" width="3" height="26" fill="#c0c0c0" />
<rect x="611" y="426" width="3" height="20" fill="#c0c0c0" />
<rect x="615" y="429" width="3" height="17" fill="#c0c0c0" />
<rect x="619" y="433" width="3" height="13" fill="#c0c0c0" />
<rect x="623" y="437" width="3" height="9" fill="#c0c0c0" />
<rect x="627" y="441" width="3" height="5" fill="#c0c0c0" />
<rect x="631" y="444" width="3" height="2" fill="#c0c0c0" />
<rect x="635" y="446" width="3" height="1" fill="#c0c0c0" />
<rect x="639" y="446" width="3" height="3" fill="#c0c0c0" />
<rect x="643" y="446" width="3" height="1" fill="#c0c0c0" />
<rect x="647" y="446" width="3" height="1" fill="#c0c0c0" />
<rect x="651" y="446" width="3" height="2" fill="#c0c0c0" />
<rect x="655" y="446" width="3" height="1" fill="#c0c0c0" />
<rect x="659" y="446" width="3" height="2" fill="#c0c0c0" />
<rect x="663" y="446" width="3" height="3" fill="#c0c0c0" />
<rect x="667" y="446" width="3" height="2" fill="#c0c0c0" />
<rect x="671" y="446" width="3" height="1" fill="#c0c0c0" />
<rect x="675" y="446" width="3" height="1" fill="#c0c0c0" />
<rect x="679" y="446" width="3" height="2" fill="#c0c0c0" />
<rect x="683" y="446" width="3" height="1" fill="#c0c0c0" />
<rect x="687" y="446" width="3" height="1" fill="#c0c0c0" />
<rect x="691" y="446" width="3" height="1" fill="#c0c0c0" />
<rect x="695" y="446" width="3" height="1" fill="#c0c0c0" />
<rect x="699" y="446" width="3" height="3" fill="#c0c0c0" />
<rect x="703" y="446" width="3" height="4" fill="#c0c0c0" />
<rect x="707" y="446" width="3" height="6" fill="#c0c0c0" />
<rect x="711" y="446" width="3" height="6" fill="#c0c0c0" />
<rect x="715" y="446" width="3" height="8" fill="#c0c0c0" />
<rect x="719" y="446" width="3" height="9" fill="#c0c0c0" />
<rect x="723" y="446" width="3" height="11" fill="#c0c0c0" />
<rect x="727" y="446" width="3" height="13" fill="#c0c0c0" />
<rect x="731" y="446" width="3" height="15" fill="#c0c0c0" />
<rect x="735" y="446" width="3" height="16" fill="#c0c0c0" />
<rect x="739" y="446" width="3" height="14" fill="#c0c0c0" />
<rect x="743" y="446" width="3" height="13" fill="#c0c0c0" />
<rect x="747" y="446" width="3" height="12" fill="#c0c0c0" />
<rect x="751" y="446" width="3" height="9" fill="#c0c0c0" />
<rect x="755" y="446" width="3" height="8" fill="#c0c0c0" />
<rect x="759" y="446" width="3" height="6" fill="#c0c0c0" />
<rect x="763" y="446" width="3" height="1" fill="#c0c0c0" />
<rect x="767" y="445" width="3" height="1" fill="#c0c0c0" />
<rect x="771" y="446" width="3" height="2" fill="#c0c0c0" />
<rect x="775" y="446" width="3" height="6" fill="#c0c0c0" />
<rect x="779" y="446" width="3" height="8" fill="#c0c0c0" />
<rect x="783" y="446" width="3" height="8" fill="#c0c0c0" />
<rect x="787" y="446" width="3" height="9" fill="#c0c0c0" />
<rect x="791" y="446" width="3" height="8" fill="#c0c0c0" />
<rect x="795" y="446" width="3" height="8" fill="#c0c0c0" />
<rect x="799" y="446" width="3" height="7" fill="#c0c0c0" />
<rect x="803" y="446" width="3" height="9" fill="#c0c0c0" />
<rect x="807" y="446" width="3" height="10" fill="#c0c0c0" />
<rect x="811" y="446" width="3" height="10" fill="#c0c0c0" />
<rect x="815" y="446" width="3" height="8" fill="#c0c0c0" />
<rect x="819" y="446" width="3" height="3" fill="#c0c0c0" />
<rect x="823" y="441" width="3" height="5" fill="#c0c0c0" />
<rect x="827" y="436" width="3" height="10" fill="#c0c0c0" />
<rect x="831" y="431" width="3" height="15" fill="#c0c0c0" />
<rect x="835" y="430" width="3" height="16" fill="#c0c0c0" />
<rect x="839" y="432" width="3" height="14" fill="#c0c0c0" />
<rect x="843" y="435" width="3" height="11" fill="#c0c0c0" />
<rect x="847" y="437" width="3" height="9" fill="#c0c0c0" />
<rect x="851" y="436" width="3" height="10" fill="#c0c0c0" />
<rect x="855" y="435" width="3" height="11" fill="#c0c0c0" />
<rect x="859" y="436" width="3" height="10" fill="#c0c0c0" />
<rect x="863" y="436" width="3" height="10" fill="#c0c0c0" />
<rect x="867" y="436" width="3" height="10" fill="#c0c0c0" />
<rect x="871" y="436" width="3" height="10" fill="#c0c0c0" />
<rect x="875" y="436" width="3" height="10" fill="#c0c0c0" />
<rect x="879" y="436" width="3" height="10" fill="#c0c0c0" />
<rect x="883" y="437" width="3" height="9" fill="#c0c0c0" />
<rect x="887" y="437" width="3" height="9" fill="#c0c0c0" />
<rect x="891" y="439" width="3" height="7" fill="#c0c0c0" />
<rect x="895" y="441" width="3" height="5" fill="#c0c0c0" />
<rect x="899" y="443" width="3" height="3" fill="#c0c0c0" />
<rect x="903" y="444" width="3" height="2" fill="#c0c0c0" />
<rect x="907" y="446" width="3" height="2" fill="#c0c0c0" />
<rect x="911" y="446" width="3" height="2" fill="#c0c0c0" />
<rect x="915" y="446" width="3" height="4" fill="#c0c0c0" />
<rect x="919" y="446" width="3" height="1" fill="#c0c0c0" />
<rect x="923" y="445" width="3" height="1" fill="#c0c0c0" />
</g>
<path d="M4 472h1v1h-1zM5 472h1v1h-1zM6 472h1v1h-1zM7 471h1v1h-1zM8 471h1v1h-1zM9 471h1v1h-1zM10 471h1v1h-1zM11 470h1v1h-1zM12 470h1v1h-1zM13 470h1v1h-1zM14 469h1v1h-1zM15 469h1v1h-1zM16 468h1v1h-1zM17 468h1v1h-1zM18 468h1v1h-1zM19 467h1v1h-1zM20 467h1v1h-1zM21 467h1v1h-1zM22 467h1v1h-1zM23 466h1v1h-1zM24 466h1v1h-1zM25 466h1v1h-1zM26 465h1v1h-1zM27 465h1v1h-1zM28 464h1v1h-1zM29 464h1v1h-1zM30 464h1v1h-1zM31 463h1v1h-1zM32 463h1v1h-1zM33 463h1v1h-1zM34 463h1v1h-1zM35 463h1v1h-1zM36 463h1v1h-1zM37 463h1v1h-1zM38 463h1v1h-1zM39 462h1v1h-1zM40 462h1v1h-1zM41 462h1v1h-1zM42 462h1v1h-1zM43 461h1v1h-1zM44 461h1v1h-1zM45 461h1v1h-1zM46 461h1v1h-1zM47 461h1v1h-1zM48 461h1v1h-1zM49 461h1v1h-1zM50 461h1v1h-1zM51 460h1v1h-1zM52 460h1v1h-1zM53 459h1v1h-1zM54 459h1v1h-1zM55 458h1v1h-1zM56 457h1v1h-1zM57 456h1v1h-1zM58 456h1v1h-1zM59 455h1v1h-1zM60 454h1v1h-1zM61 453h1v1h-1zM62 452h1v1h-1zM63 451h1v1h-1zM64 450h1v1h-1zM65 449h1v1h-1zM66 447h1v2h-1zM67 446h1v1h-1zM68 445h1v1h-1zM69 444h1v1h-1zM70 443h1v1h-1zM71 442h1v1h-1zM72 441h1v1h-1zM73 440h1v1h-1zM74 438h1v2h-1zM75 437h1v1h-1zM76 436h1v1h-1zM77 435h1v1h-1zM78 433h1v2h-1zM79 432h1v1h-1zM80 431h1v1h-1zM81 430h1v1h-1zM82 429h1v1h-1zM83 428h1v1h-1zM84 427h1v1h-1zM85 426h1v1h-1zM86 425h1v1h-1zM87 424h1v1h-1zM88 423h1v1h-1zM89 422h1v1h-1zM90 422h1v1h-1zM91 421h1v1h-1zM92 420h1v1h-1zM93 420h1v1h-1zM94 419h1v1h-1zM95 419h1v1h-1zM96 418h1v1h-1zM97 418h1v1h-1zM98 418h1v1h-1zM99 417h1v1h-1zM100 417h1v1h-1zM101 417h1v1h-1zM102 417h1v1h-1zM103 416h1v1h-1zM104 416h1v1h-1zM105 416h1v1h-1zM106 416h1v1h-1zM107 415h1v1h-1zM108 415h1v1h-1zM109 415h1v1h-1zM110 415h1v1h-1zM111 415h1v1h-1zM112 415h1v1h-1zM113 415h1v1h-1zM114 415h1v1h-1zM115 415h1v1h-1zM116 415h1v1h-1zM117 415h1v1h-1zM118 415h1v1h-1zM119 414h1v1h-1zM120 414h1v1h-1zM121 414h1v1h-1zM122 414h1v1h-1zM123 414h1v1h-1zM124 414h1v1h-1zM125 414h1v1h-1zM126 414h1v1h-1zM127 415h1v1h-1zM128 415h1v1h-1zM129 415h1v1h-1zM130 415h1v1h-1zM131 416h1v1h-1zM132 416h1v1h-1zM133 416h1v1h-1zM134 417h1v1h-1zM135 417h1v1h-1zM136 418h1v1h-1zM137 418h1v1h-1zM138 419h1v1h-1zM139 419h1v1h-1zM140 420h1v1h-1zM141 420h1v1h-1zM142 421h1v1h-1zM143 421h1v1h-1zM144 422h1v1h-1zM145 423h1v1h-1zM146 423h1v1h-1zM147 424h1v1h-1zM148 425h1v1h-1zM149 425h1v1h-1zM150 426h1v1h-1zM151 426h1v1h-1zM152 427h1v1h-1zM153 427h1v1h-1zM154 428h1v1h-1zM155 428h1v1h-1zM156 429h1v1h-1zM157 430h1v1h-1zM158 430h1v1h-1zM159 431h1v1h-1zM160 432h1v1h-1zM161 432h1v1h-1zM162 433h1v1h-1zM163 433h1v1h-1zM164 434h1v1h-1zM165 434h1v1h-1zM166 434h1v1h-1zM167 435h1v1h-1zM168 435h1v1h-1zM169 435h1v1h-1zM170 435h1v1h-1zM171 436h1v1h-1zM172 436h1v1h-1zM173 436h1v1h-1zM174 436h1v1h-1zM175 437h1v1h-1zM176 437h1v1h-1zM177 437h1v1h-1zM178 437h1v1h-1zM179 437h1v1h-1zM180 437h1v1h-1zM181 437h1v1h-1zM182 437h1v1h-1zM183 437h1v1h-1zM184 437h1v1h-1zM185 437h1v1h-1zM186 437h1v1h-1zM187 438h1v1h-1zM188 438h1v1h-1zM189 438h1v1h-1zM190 438h1v1h-1zM191 438h1v1h-1zM192 438h1v1h-1zM193 438h1v1h-1zM194 439h1v1h-1zM195 439h1v1h-1zM196 440h1v1h-1zM197 440h1v1h-1zM198 440h1v1h-1zM199 441h1v1h-1zM200 441h1v1h-1zM201 441h1v1h-1zM202 442h1v1h-1zM203 442h1v1h-1zM204 443h1v1h-1zM205 444h1v1h-1zM206 444h1v1h-1zM207 445h1v1h-1zM208 446h1v1h-1zM209 447h1v1h-1zM210 447h1v1h-1zM211 448h1v1h-1zM212 449h1v1h-1zM213 450h1v1h-1zM214 450h1v1h-1zM215 451h1v1h-1zM216 452h1v1h-1zM217 453h1v1h-1zM218 453h1v1h-1zM219 454h1v1h-1zM220 455h1v1h-1zM221 455h1v1h-1zM222 456h1v1h-1zM223 456h1v1h-1zM224 457h1v1h-1zM225 457h1v1h-1zM226 458h1v1h-1zM227 458h1v1h-1zM228 459h1v1h-1zM229 459h1v1h-1zM230 460h1v1h-1zM231 460h1v1h-1zM232 461h1v1h-1zM233 461h1v1h-1zM234 461h1v1h-1zM235 460h1v1h-1zM236 460h1v1h-1zM237 460h1v1h-1zM238 460h1v1h-1zM239 459h1v1h-1zM240 459h1v1h-1zM241 459h1v1h-1zM242 458h1v1h-1zM243 458h1v1h-1zM244 457h1v1h-1zM245 456h1v1h-1zM246 456h1v1h-1zM247 455h1v1h-1zM248 454h1v1h-1zM249 454h1v1h-1zM250 453h1v1h-1zM251 453h1v1h-1zM252 452h1v1h-1zM253 451h1v1h-1zM254 451h1v1h-1zM255 450h1v1h-1zM256 449h1v1h-1zM257 448h1v1h-1zM258 448h1v1h-1zM259 447h1v1h-1zM260 446h1v1h-1zM261 446h1v1h-1zM262 445h1v1h-1zM263 445h1v1h-1zM264 444h1v1h-1zM265 444h1v1h-1zM266 444h1v1h-1zM267 443h1v1h-1zM268 443h1v1h-1zM269 443h1v1h-1zM270 443h1v1h-1zM271 442h1v1h-1zM272 442h1v1h-1zM273 442h1v1h-1zM274 442h1v1h-1zM275 441h1v1h-1zM276 441h1v1h-1zM277 441h1v1h-1zM278 441h1v1h-1zM279 441h1v1h-1zM280 441h1v1h-1zM281 441h1v1h-1zM282 441h1v1h-1zM283 442h1v1h-1zM284 442h1v1h-1zM285 442h1v1h-1zM286 442h1v1h-1zM287 442h1v1h-1zM288 442h1v1h-1zM289 442h1v1h-1zM290 442h1v1h-1zM291 443h1v1h-1zM292 443h1v1h-1zM293 443h1v1h-1zM294 443h1v1h-1zM295 443h1v1h-1zM296 443h1v1h-1zM297 443h1v1h-1zM298 443h1v1h-1zM299 443h1v1h-1zM300 443h1v1h-1zM301 443h1v1h-1zM302 443h1v1h-1zM303 444h1v1h-1zM304 444h1v1h-1zM305 444h1v1h-1zM306 444h1v1h-1zM307 445h1v1h-1zM308 445h1v1h-1zM309 445h1v1h-1zM310 445h1v1h-1zM311 446h1v1h-1zM312 446h1v1h-1zM313 446h1v1h-1zM314 446h1v1h-1zM315 446h1v1h-1zM316 446h1v1h-1zM317 446h1v1h-1zM318 446h1v1h-1zM319 447h1v1h-1zM320 447h1v1h-1zM321 447h1v1h-1zM322 447h1v1h-1zM323 447h1v1h-1zM324 447h1v1h-1zM325 447h1v1h-1zM326 447h1v1h-1zM327 447h1v1h-1zM328 447h1v1h-1zM329 447h1v1h-1zM330 447h1v1h-1zM331 447h1v1h-1zM332 447h1v1h-1zM333 447h1v1h-1zM334 447h1v1h-1zM335 447h1v1h-1zM336 447h1v1h-1zM337 447h1v1h-1zM338 447h1v1h-1zM339 446h1v1h-1zM340 446h1v1h-1zM341 446h1v1h-1zM342 446h1v1h-1zM343 446h1v1h-1zM344 446h1v1h-1zM345 446h1v1h-1zM346 446h1v1h-1zM347 445h1v1h-1zM348 445h1v1h-1zM349 445h1v1h-1zM350 445h1v1h-1zM351 445h1v1h-1zM352 445h1v1h-1zM353 445h1v1h-1zM354 445h1v1h-1zM355 444h1v1h-1zM356 444h1v1h-1zM357 444h1v1h-1zM358 444h1v1h-1zM359 443h1v1h-1zM360 443h1v1h-1zM361 443h1v1h-1zM362 443h1v1h-1zM363 442h1v1h-1zM364 442h1v1h-1zM365 442h1v1h-1zM366 441h1v1h-1zM367 441h1v1h-1zM368 440h1v1h-1zM369 440h1v1h-1zM370 439h1v1h-1zM371 439h1v1h-1zM372 438h1v1h-1zM373 438h1v1h-1zM374 437h1v1h-1zM375 437h1v1h-1zM376 436h1v1h-1zM377 436h1v1h-1zM378 435h1v1h-1zM379 435h1v1h-1zM380 434h1v1h-1zM381 434h1v1h-1zM382 434h1v1h-1zM383 433h1v1h-1zM384 433h1v1h-1zM385 433h1v1h-1zM386 432h1v1h-1zM387 432h1v1h-1zM388 431h1v1h-1zM389 431h1v1h-1zM390 431h1v1h-1zM391 430h1v1h-1zM392 430h1v1h-1zM393 430h1v1h-1zM394 430h1v1h-1zM395 429h1v1h-1zM396 429h1v1h-1zM397 429h1v1h-1zM398 429h1v1h-1zM399 428h1v1h-1zM400 428h1v1h-1zM401 428h1v1h-1zM402 428h1v1h-1zM403 427h1v1h-1zM404 427h1v1h-1zM405 427h1v1h-1zM406 427h1v1h-1zM407 427h1v1h-1zM408 427h1v1h-1zM409 427h1v1h-1zM410 427h1v1h-1zM411 427h1v1h-1zM412 427h1v1h-1zM413 427h1v1h-1zM414 427h1v1h-1zM415 427h1v1h-1zM416 427h1v1h-1zM417 427h1v1h-1zM418 427h1v1h-1zM419 427h1v1h-1zM420 427h1v1h-1zM421 427h1v1h-1zM422 427h1v1h-1zM423 427h1v1h-1zM424 427h1v1h-1zM425 427h1v1h-1zM426 427h1v1h-1zM427 427h1v1h-1zM428 427h1v1h-1zM429 427h1v1h-1zM430 427h1v1h-1zM431 428h1v1h-1zM432 428h1v1h-1zM433 428h1v1h-1zM434 428h1v1h-1zM435 428h1v1h-1zM436 428h1v1h-1zM437 428h1v1h-1zM438 428h1v1h-1zM439 428h1v1h-1zM440 428h1v1h-1zM441 428h1v1h-1zM442 428h1v1h-1zM443 428h1v1h-1zM444 428h1v1h-1zM445 428h1v1h-1zM446 428h1v1h-1zM447 429h1v1h-1zM448 429h1v1h-1zM449 429h1v1h-1zM450 430h1v1h-1zM451 430h1v1h-1zM452 431h1v1h-1zM453 431h1v1h-1zM454 431h1v1h-1zM455 432h1v1h-1zM456 432h1v1h-1zM457 432h1v1h-1zM458 432h1v1h-1zM459 433h1v1h-1zM460 433h1v1h-1zM461 433h1v1h-1zM462 433h1v1h-1zM463 434h1v1h-1zM464 434h1v1h-1zM465 434h1v1h-1zM466 435h1v1h-1zM467 435h1v1h-1zM468 436h1v1h-1zM469 436h1v1h-1zM470 436h1v1h-1zM471 437h1v1h-1zM472 437h1v1h-1zM473 437h1v1h-1zM474 438h1v1h-1zM475 438h1v1h-1zM476 439h1v1h-1zM477 439h1v1h-1zM478 439h1v1h-1zM479 440h1v1h-1zM480 440h1v1h-1zM481 440h1v1h-1zM482 441h1v1h-1zM483 441h1v1h-1zM484 442h1v1h-1zM485 442h1v1h-1zM486 443h1v1h-1zM487 443h1v1h-1zM488 444h1v1h-1zM489 444h1v1h-1zM490 445h1v1h-1zM491 445h1v1h-1zM492 446h1v1h-1zM493 447h1v1h-1zM494 447h1v1h-1zM495 448h1v1h-1zM496 449h1v1h-1zM497 449h1v1h-1zM498 450h1v1h-1zM499 450h1v1h-1zM500 451h1v1h-1zM501 451h1v1h-1zM502 451h1v1h-1zM503 452h1v1h-1zM504 452h1v1h-1zM505 452h1v1h-1zM506 453h1v1h-1zM507 453h1v1h-1zM508 454h1v1h-1zM509 454h1v1h-1zM510 455h1v1h-1zM511 455h1v1h-1zM512 456h1v1h-1zM513 456h1v1h-1zM514 457h1v1h-1zM515 457h1v1h-1zM516 458h1v1h-1zM517 458h1v1h-1zM518 458h1v1h-1zM519 459h1v1h-1zM520 459h1v1h-1zM521 459h1v1h-1zM522 459h1v1h-1zM523 460h1v1h-1zM524 460h1v1h-1zM525 460h1v1h-1zM526 460h1v1h-1zM527 461h1v1h-1zM528 461h1v1h-1zM529 461h1v1h-1zM530 461h1v1h-1zM531 462h1v1h-1zM532 462h1v1h-1zM533 462h1v1h-1zM534 462h1v1h-1zM535 463h1v1h-1zM536 463h1v1h-1zM537 463h1v1h-1zM538 463h1v1h-1zM539 464h1v1h-1zM540 464h1v1h-1zM541 464h1v1h-1zM542 464h1v1h-1zM543 465h1v1h-1zM544 465h1v1h-1zM545 465h1v1h-1zM546 465h1v1h-1zM547 466h1v1h-1zM548 466h1v1h-1zM549 466h1v1h-1zM550 466h1v1h-1zM551 466h1v1h-1zM552 466h1v1h-1zM553 466h1v1h-1zM554 466h1v1h-1zM555 466h1v1h-1zM556 466h1v1h-1zM557 466h1v1h-1zM558 466h1v1h-1zM559 465h1v1h-1zM560 465h1v1h-1zM561 465h1v1h-1zM562 465h1v1h-1zM563 464h1v1h-1zM564 464h1v1h-1zM565 464h1v1h-1zM566 463h1v1h-1zM567 463h1v1h-1zM568 462h1v1h-1zM569 462h1v1h-1zM570 461h1v1h-1zM571 461h1v1h-1zM572 460h1v1h-1zM573 459h1v1h-1zM574 459h1v1h-1zM575 458h1v1h-1zM576 457h1v1h-1zM577 456h1v1h-1zM578 455h1v1h-1zM579 454h1v1h-1zM580 453h1v1h-1zM581 452h1v1h-1zM582 452h1v1h-1zM583 451h1v1h-1zM584 450h1v1h-1zM585 449h1v1h-1zM586 448h1v1h-1zM587 447h1v1h-1zM588 446h1v1h-1zM589 445h1v1h-1zM590 445h1v1h-1zM591 444h1v1h-1zM592 443h1v1h-1zM593 442h1v1h-1zM594 441h1v1h-1zM595 440h1v1h-1zM596 439h1v1h-1zM597 438h1v1h-1zM598 438h1v1h-1zM599 437h1v1h-1zM600 436h1v1h-1zM601 435h1v1h-1zM602 435h1v1h-1zM603 434h1v1h-1zM604 433h1v1h-1zM605 432h1v1h-1zM606 432h1v1h-1zM607 431h1v1h-1zM608 430h1v1h-1zM609 430h1v1h-1zM610 429h1v1h-1zM611 429h1v1h-1zM612 428h1v1h-1zM613 428h1v1h-1zM614 428h1v1h-1zM615 428h1v1h-1zM616 428h1v1h-1zM617 428h1v1h-1zM618 428h1v1h-1zM619 427h1v1h-1zM620 427h1v1h-1zM621 427h1v1h-1zM622 427h1v1h-1zM623 428h1v1h-1zM624 428h1v1h-1zM625 428h1v1h-1zM626 428h1v1h-1zM627 429h1v1h-1zM628 429h1v1h-1zM629 429h1v1h-1zM630 430h1v1h-1zM631 430h1v1h-1zM632 431h1v1h-1zM633 431h1v1h-1zM634 432h1v1h-1zM635 432h1v1h-1zM636 433h1v1h-1zM637 434h1v1h-1zM638 434h1v1h-1zM639 435h1v1h-1zM640 436h1v1h-1zM641 437h1v1h-1zM642 437h1v1h-1zM643 438h1v1h-1zM644 439h1v1h-1zM645 440h1v1h-1zM646 440h1v1h-1zM647 441h1v1h-1zM648 442h1v1h-1zM649 442h1v1h-1zM650 443h1v1h-1zM651 443h1v1h-1zM652 444h1v1h-1zM653 444h1v1h-1zM654 444h1v1h-1zM655 445h1v1h-1zM656 445h1v1h-1zM657 445h1v1h-1zM658 445h1v1h-1zM659 446h1v1h-1zM660 446h1v1h-1zM661 446h1v1h-1zM662 446h1v1h-1zM663 447h1v1h-1zM664 447h1v1h-1zM665 447h1v1h-1zM666 447h1v1h-1zM667 448h1v1h-1zM668 448h1v1h-1zM669 448h1v1h-1zM670 448h1v1h-1zM671 448h1v1h-1zM672 448h1v1h-1zM673 448h1v1h-1zM674 448h1v1h-1zM675 448h1v1h-1zM676 448h1v1h-1zM677 448h1v1h-1zM678 448h1v1h-1zM679 448h1v1h-1zM680 448h1v1h-1zM681 448h1v1h-1zM682 448h1v1h-1zM683 448h1v1h-1zM684 448h1v1h-1zM685 448h1v1h-1zM686 448h1v1h-1zM687 448h1v1h-1zM688 448h1v1h-1zM689 448h1v1h-1zM690 448h1v1h-1zM691 448h1v1h-1zM692 448h1v1h-1zM693 448h1v1h-1zM694 448h1v1h-1zM695 448h1v1h-1zM696 448h1v1h-1zM697 448h1v1h-1zM698 448h1v1h-1zM699 448h1v1h-1zM700 448h1v1h-1zM701 448h1v1h-1zM702 448h1v1h-1zM703 448h1v1h-1zM704 448h1v1h-1zM705 448h1v1h-1zM706 448h1v1h-1zM707 448h1v1h-1zM708 448h1v1h-1zM709 448h1v1h-1zM710 448h1v1h-1zM711 449h1v1h-1zM712 449h1v1h-1zM713 449h1v1h-1zM714 449h1v1h-1zM715 449h1v1h-1zM716 449h1v1h-1zM717 449h1v1h-1zM718 449h1v1h-1zM719 450h1v1h-1zM720 450h1v1h-1zM721 450h1v1h-1zM722 450h1v1h-1zM723 451h1v1h-1zM724 451h1v1h-1zM725 451h1v1h-1zM726 452h1v1h-1zM727 452h1v1h-1zM728 453h1v1h-1zM729 453h1v1h-1zM730 453h1v1h-1zM731 454h1v1h-1zM732 454h1v1h-1zM733 454h1v1h-1zM734 455h1v1h-1zM735 455h1v1h-1zM736 456h1v1h-1zM737 456h1v1h-1zM738 456h1v1h-1zM739 457h1v1h-1zM740 457h1v1h-1zM741 457h1v1h-1zM742 457h1v1h-1zM743 458h1v1h-1zM744 458h1v1h-1zM745 458h1v1h-1zM746 458h1v1h-1zM747 458h1v1h-1zM748 458h1v1h-1zM749 458h1v1h-1zM750 458h1v1h-1zM751 458h1v1h-1zM752 458h1v1h-1zM753 458h1v1h-1zM754 458h1v1h-1zM755 458h1v1h-1zM756 458h1v1h-1zM757 458h1v1h-1zM758 458h1v1h-1zM759 458h1v1h-1zM760 458h1v1h-1zM761 458h1v1h-1zM762 458h1v1h-1zM763 457h1v1h-1zM764 457h1v1h-1zM765 457h1v1h-1zM766 456h1v1h-1zM767 456h1v1h-1zM768 455h1v1h-1zM769 455h1v1h-1zM770 454h1v1h-1zM771 454h1v1h-1zM772 453h1v1h-1zM773 453h1v1h-1zM774 453h1v1h-1zM775 452h1v1h-1zM776 452h1v1h-1zM777 452h1v1h-1zM778 452h1v1h-1zM779 452h1v1h-1zM780 452h1v1h-1zM781 452h1v1h-1zM782 452h1v1h-1zM783 451h1v1h-1zM784 451h1v1h-1zM785 451h1v1h-1zM786 451h1v1h-1zM787 451h1v1h-1zM788 451h1v1h-1zM789 451h1v1h-1zM790 451h1v1h-1zM791 451h1v1h-1zM792 451h1v1h-1zM793 451h1v1h-1zM794 451h1v1h-1zM795 451h1v1h-1zM796 451h1v1h-1zM797 451h1v1h-1zM798 451h1v1h-1zM799 452h1v1h-1zM800 452h1v1h-1zM801 452h1v1h-1zM802 452h1v1h-1zM803 453h1v1h-1zM804 453h1v1h-1zM805 453h1v1h-1zM806 453h1v1h-1zM807 454h1v1h-1zM808 454h1v1h-1zM809 454h1v1h-1zM810 454h1v1h-1zM811 455h1v1h-1zM812 455h1v1h-1zM813 455h1v1h-1zM814 455h1v1h-1zM815 455h1v1h-1zM816 455h1v1h-1zM817 455h1v1h-1zM818 455h1v1h-1zM819 454h1v1h-1zM820 454h1v1h-1zM821 454h1v1h-1zM822 453h1v1h-1zM823 453h1v1h-1zM824 452h1v1h-1zM825 452h1v1h-1zM826 451h1v1h-1zM827 451h1v1h-1zM828 450h1v1h-1zM829 450h1v1h-1zM830 449h1v1h-1zM831 449h1v1h-1zM832 448h1v1h-1zM833 447h1v1h-1zM834 447h1v1h-1zM835 446h1v1h-1zM836 445h1v1h-1zM837 445h1v1h-1zM838 444h1v1h-1zM839 444h1v1h-1zM840 443h1v1h-1zM841 442h1v1h-1zM842 442h1v1h-1zM843 441h1v1h-1zM844 440h1v1h-1zM845 440h1v1h-1zM846 439h1v1h-1zM847 439h1v1h-1zM848 438h1v1h-1zM849 438h1v1h-1zM850 437h1v1h-1zM851 437h1v1h-1zM852 436h1v1h-1zM853 436h1v1h-1zM854 436h1v1h-1zM855 435h1v1h-1zM856 435h1v1h-1zM857 435h1v1h-1zM858 435h1v1h-1zM859 434h1v1h-1zM860 434h1v1h-1zM861 434h1v1h-1zM862 434h1v1h-1zM863 434h1v1h-1zM864 434h1v1h-1zM865 434h1v1h-1zM866 434h1v1h-1zM867 435h1v1h-1zM868 435h1v1h-1zM869 435h1v1h-1zM870 435h1v1h-1zM871 435h1v1h-1zM872 435h1v1h-1zM873 435h1v1h-1zM874 435h1v1h-1zM875 436h1v1h-1zM876 436h1v1h-1zM877 436h1v1h-1zM878 436h1v1h-1zM879 436h1v1h-1zM880 436h1v1h-1zM881 436h1v1h-1zM882 436h1v1h-1zM883 436h1v1h-1zM884 436h1v1h-1zM885 436h1v1h-1zM886 436h1v1h-1zM887 436h1v1h-1zM888 436h1v1h-1zM889 436h1v1h-1zM890 436h1v1h-1zM891 436h1v1h-1zM892 436h1v1h-1zM893 436h1v1h-1zM894 436h1v1h-1zM895 437h1v1h-1zM896 437h1v1h-1zM897 437h1v1h-1zM898 437h1v1h-1zM899 438h1v1h-1zM900 438h1v1h-1zM901 438h1v1h-1zM902 438h1v1h-1zM903 439h1v1h-1zM904 439h1v1h-1zM905 439h1v1h-1zM906 439h1v1h-1zM907 440h1v1h-1zM908 440h1v1h-1zM909 440h1v1h-1zM910 440h1v1h-1zM911 441h1v1h-1zM912 441h1v1h-1zM913 441h1v1h-1zM914 442h1v1h-1zM915 442h1v1h-1zM916 443h1v1h-1zM917 443h1v1h-1zM918 443h1v1h-1zM919 444h1v1h-1zM920 444h1v1h-1zM921 444h1v1h-1zM922 444h1v1h-1zM923 445h1v1h-1zM924 445h1v1h-1z" fill="#ff0000" shape-rendering="crispEdges"/>
<path d="M4 521h1v1h-1zM5 519h1v2h-1zM6 517h1v2h-1zM7 515h1v2h-1zM8 514h1v1h-1zM9 515h1v1h-1zM10 516h1v1h-1zM11 517h1v1h-1zM12 518h1v1h-1zM13 518h1v1h-1zM14 518h1v1h-1zM15 518h1v1h-1zM16 518h1v1h-1zM17 518h1v1h-1zM18 519h1v1h-1zM19 519h1v1h-1zM20 520h1v1h-1zM21 520h1v1h-1zM22 520h1v1h-1zM23 521h1v1h-1zM24 521h1v1h-1zM25 521h1v1h-1zM26 521h1v1h-1zM27 522h1v1h-1zM28 522h1v1h-1zM29 522h1v1h-1zM30 522h1v1h-1zM31 523h1v1h-1zM32 523h1v1h-1zM33 521h1v2h-1zM34 520h1v1h-1zM35 518h1v2h-1zM36 517h1v1h-1zM37 517h1v1h-1zM38 517h1v1h-1zM39 518h1v1h-1zM40 518h1v1h-1zM41 518h1v1h-1zM42 517h1v1h-1zM43 517h1v1h-1zM44 516h1v1h-1zM45 516h1v1h-1zM46 516h1v1h-1zM47 517h1v1h-1zM48 516h1v2h-1zM49 513h1v3h-1zM50 511h1v2h-1zM51 508h1v3h-1zM52 506h1v2h-1zM53 505h1v1h-1zM54 503h1v2h-1zM55 502h1v1h-1zM56 501h1v1h-1zM57 501h1v1h-1zM58 500h1v1h-1zM59 500h1v1h-1zM60 499h1v1h-1zM61 499h1v1h-1zM62 499h1v1h-1zM63 498h1v1h-1zM64 498h1v1h-1zM65 499h1v1h-1zM66 500h1v2h-1zM67 502h1v1h-1zM68 503h1v1h-1zM69 503h1v1h-1zM70 503h1v1h-1zM71 503h1v1h-1zM72 503h1v1h-1zM73 503h1v1h-1zM74 503h1v1h-1zM75 504h1v1h-1zM76 504h1v1h-1zM77 504h1v1h-1zM78 504h1v1h-1zM79 504h1v1h-1zM80 504h1v1h-1zM81 504h1v1h-1zM82 504h1v1h-1zM83 504h1v1h-1zM84 504h1v1h-1zM85 504h1v1h-1zM86 505h1v1h-1zM87 505h1v1h-1zM88 506h1v1h-1zM89 505h1v1h-1zM90 505h1v1h-1zM91 504h1v1h-1zM92 503h1v1h-1zM93 503h1v1h-1zM94 503h1v1h-1zM95 502h1v1h-1zM96 502h1v1h-1zM97 501h1v1h-1zM98 501h1v1h-1zM99 500h1v1h-1zM100 499h1v1h-1zM101 499h1v1h-1zM102 499h1v1h-1zM103 499h1v1h-1zM104 499h1v2h-1zM105 501h1v2h-1zM106 503h1v2h-1zM107 505h1v2h-1zM108 507h1v1h-1zM109 507h1v1h-1zM110 507h1v1h-1zM111 506h1v1h-1zM112 506h1v1h-1zM113 506h1v1h-1zM114 506h1v1h-1zM115 505h1v1h-1zM116 505h1v1h-1zM117 505h1v1h-1zM118 504h1v1h-1zM119 504h1v1h-1zM120 503h1v1h-1zM121 503h1v1h-1zM122 503h1v1h-1zM123 503h1v1h-1zM124 503h1v2h-1zM125 505h1v3h-1zM126 508h1v4h-1zM127 512h1v3h-1zM128 515h1v2h-1zM129 516h1v1h-1zM130 516h1v1h-1zM131 516h1v1h-1zM132 516h1v1h-1zM133 516h1v1h-1zM134 516h1v1h-1zM135 517h1v1h-1zM136 517h1v1h-1zM137 517h1v1h-1zM138 516h1v1h-1zM139 516h1v1h-1zM140 515h1v1h-1zM141 514h1v1h-1zM142 513h1v1h-1zM143 512h1v1h-1zM144 511h1v1h-1zM145 512h1v1h-1zM146 513h1v2h-1zM147 515h1v1h-1zM148 516h1v1h-1zM149 515h1v1h-1zM150 515h1v1h-1zM151 514h1v1h-1zM152 513h1v1h-1zM153 513h1v1h-1zM154 512h1v1h-1zM155 512h1v1h-1zM156 511h1v1h-1zM157 511h1v1h-1zM158 511h1v1h-1zM159 512h1v1h-1zM160 512h1v1h-1zM161 512h1v1h-1zM162 512h1v1h-1zM163 512h1v1h-1zM164 512h1v1h-1zM165 512h1v1h-1zM166 511h1v1h-1zM167 511h1v1h-1zM168 510h1v1h-1zM169 511h1v1h-1zM170 512h1v1h-1zM171 513h1v1h-1zM172 514h1v1h-1zM173 514h1v1h-1zM174 513h1v1h-1zM175 513h1v1h-1zM176 512h1v1h-1zM177 512h1v1h-1zM178 512h1v1h-1zM179 511h1v1h-1zM180 511h1v1h-1zM181 511h1v1h-1zM182 511h1v1h-1zM183 512h1v1h-1zM184 512h1v1h-1zM185 513h1v1h-1zM186 514h1v2h-1zM187 516h1v1h-1zM188 517h1v1h-1zM189 517h1v1h-1zM190 517h1v1h-1zM191 518h1v1h-1zM192 518h1v1h-1zM193 519h1v1h-1zM194 520h1v1h-1zM195 521h1v1h-1zM196 522h1v1h-1zM197 523h1v1h-1zM198 524h1v1h-1zM199 525h1v1h-1zM200 526h1v1h-1zM201 526h1v1h-1zM202 526h1v1h-1zM203 525h1v1h-1zM204 525h1v1h-1zM205 525h1v1h-1zM206 525h1v1h-1zM207 525h1v1h-1zM208 525h1v1h-1zM209 525h1v1h-1zM210 525h1v1h-1zM211 526h1v1h-1zM212 526h1v1h-1zM213 526h1v1h-1zM214 526h1v1h-1zM215 527h1v1h-1zM216 527h1v1h-1zM217 526h1v1h-1zM218 524h1v2h-1zM219 523h1v1h-1zM220 522h1v1h-1zM221 522h1v1h-1zM222 522h1v1h-1zM223 522h1v1h-1zM224 521h1v2h-1zM225 519h1v2h-1zM226 516h1v3h-1zM227 514h1v2h-1zM228 512h1v2h-1zM229 512h1v1h-1zM230 512h1v1h-1zM231 511h1v1h-1zM232 511h1v1h-1zM233 510h1v1h-1zM234 508h1v2h-1zM235 507h1v1h-1zM236 506h1v1h-1zM237 506h1v1h-1zM238 506h1v1h-1zM239 505h1v1h-1zM240 505h1v1h-1zM241 505h1v1h-1zM242 506h1v1h-1zM243 506h1v1h-1zM244 507h1v1h-1zM245 507h1v1h-1zM246 506h1v1h-1zM247 506h1v1h-1zM248 505h1v2h-1zM249 507h1v2h-1zM250 509h1v3h-1zM251 512h1v2h-1zM252 514h1v2h-1zM253 515h1v1h-1zM254 515h1v1h-1zM255 514h1v1h-1zM256 514h1v1h-1zM257 515h1v1h-1zM258 515h1v1h-1zM259 516h1v1h-1zM260 517h1v1h-1zM261 517h1v1h-1zM262 516h1v1h-1zM263 516h1v1h-1zM264 515h1v1h-1zM265 514h1v1h-1zM266 514h1v1h-1zM267 513h1v1h-1zM268 512h1v1h-1zM269 512h1v1h-1zM270 512h1v1h-1zM271 511h1v1h-1zM272 511h1v1h-1zM273 511h1v1h-1zM274 511h1v1h-1zM275 512h1v1h-1zM276 512h1v1h-1zM277 512h1v1h-1zM278 512h1v1h-1zM279 513h1v1h-1zM280 513h1v1h-1zM281 514h1v1h-1zM282 515h1v2h-1zM283 517h1v1h-1zM284 518h1v1h-1zM285 518h1v1h-1zM286 518h1v1h-1zM287 517h1v1h-1zM288 517h1v1h-1zM289 517h1v1h-1zM290 517h1v1h-1zM291 517h1v1h-1zM292 517h1v1h-1zM293 516h1v1h-1zM294 514h1v2h-1zM295 513h1v1h-1zM296 512h1v1h-1zM297 513h1v2h-1zM298 515h1v1h-1zM299 516h1v2h-1zM300 518h1v1h-1zM301 518h1v1h-1zM302 518h1v1h-1zM303 518h1v1h-1zM304 518h1v1h-1zM305 516h1v2h-1zM306 515h1v1h-1zM307 513h1v2h-1zM308 512h1v1h-1zM309 512h1v1h-1zM310 513h1v1h-1zM311 513h1v1h-1zM312 514h1v1h-1zM313 514h1v1h-1zM314 514h1v1h-1zM315 514h1v1h-1zM316 514h1v1h-1zM317 514h1v1h-1zM318 514h1v1h-1zM319 515h1v1h-1zM320 515h1v1h-1zM321 515h1v1h-1zM322 516h1v1h-1zM323 516h1v1h-1zM324 517h1v1h-1zM325 517h1v1h-1zM326 517h1v1h-1zM327 516h1v1h-1zM328 516h1v1h-1zM329 516h1v1h-1zM330 515h1v1h-1zM331 515h1v1h-1zM332 514h1v1h-1zM333 513h1v1h-1zM334 512h1v1h-1zM335 511h1v1h-1zM336 510h1v1h-1zM337 509h1v1h-1zM338 509h1v1h-1zM339 508h1v1h-1zM340 507h1v1h-1zM341 508h1v2h-1zM342 510h1v2h-1zM343 512h1v2h-1zM344 514h1v1h-1zM345 514h1v1h-1zM346 513h1v1h-1zM347 513h1v1h-1zM348 512h1v1h-1zM349 512h1v1h-1zM350 512h1v1h-1zM351 512h1v1h-1zM352 512h1v1h-1zM353 511h1v1h-1zM354 510h1v1h-1zM355 509h1v1h-1zM356 508h1v1h-1zM357 509h1v1h-1zM358 509h1v1h-1zM359 510h1v1h-1zM360 511h1v1h-1zM361 511h1v1h-1zM362 511h1v1h-1zM363 511h1v1h-1zM364 511h1v1h-1zM365 509h1v2h-1zM366 508h1v1h-1zM367 506h1v2h-1zM368 505h1v1h-1zM369 504h1v1h-1zM370 503h1v1h-1zM371 502h1v1h-1zM372 501h1v1h-1zM373 501h1v1h-1zM374 501h1v1h-1zM375 502h1v1h-1zM376 502h1v1h-1zM377 503h1v1h-1zM378 504h1v2h-1zM379 506h1v1h-1zM380 507h1v1h-1zM381 508h1v1h-1zM382 509h1v2h-1zM383 511h1v1h-1zM384 512h1v1h-1zM385 511h1v1h-1zM386 511h1v1h-1zM387 510h1v1h-1zM388 509h1v1h-1zM389 509h1v1h-1zM390 510h1v1h-1zM391 510h1v1h-1zM392 511h1v1h-1zM393 511h1v1h-1zM394 511h1v1h-1zM395 511h1v1h-1zM396 511h1v1h-1zM397 511h1v1h-1zM398 511h1v1h-1zM399 511h1v1h-1zM400 511h1v1h-1zM401 511h1v1h-1zM402 511h1v1h-1zM403 510h1v1h-1zM404 510h1v1h-1zM405 509h1v1h-1zM406 509h1v1h-1zM407 508h1v1h-1zM408 507h1v1h-1zM409 506h1v1h-1zM410 505h1v1h-1zM411 504h1v1h-1zM412 503h1v1h-1zM413 503h1v1h-1zM414 504h1v1h-1zM415 504h1v1h-1zM416 505h1v1h-1zM417 506h1v1h-1zM418 506h1v1h-1zM419 507h1v1h-1zM420 508h1v1h-1zM421 508h1v1h-1zM422 508h1v1h-1zM423 509h1v1h-1zM424 509h1v1h-1zM425 510h1v1h-1zM426 511h1v2h-1zM427 513h1v1h-1zM428 514h1v1h-1zM429 513h1v1h-1zM430 513h1v1h-1zM431 512h1v1h-1zM432 511h1v1h-1zM433 511h1v1h-1zM434 511h1v1h-1zM435 512h1v1h-1zM436 512h1v1h-1zM437 512h1v1h-1zM438 512h1v1h-1zM439 511h1v1h-1zM440 511h1v1h-1zM441 511h1v1h-1zM442 512h1v1h-1zM443 512h1v1h-1zM444 513h1v1h-1zM445 513h1v1h-1zM446 513h1v1h-1zM447 512h1v1h-1zM448 512h1v1h-1zM449 512h1v1h-1zM450 512h1v1h-1zM451 512h1v1h-1zM452 512h1v1h-1zM453 511h1v1h-1zM454 511h1v1h-1zM455 510h1v1h-1zM456 509h1v2h-1zM457 511h1v2h-1zM458 513h1v2h-1zM459 515h1v2h-1zM460 517h1v1h-1zM461 517h1v1h-1zM462 517h1v1h-1zM463 516h1v1h-1zM464 516h1v1h-1zM465 516h1v1h-1zM466 517h1v1h-1zM467 517h1v1h-1zM468 518h1v1h-1zM469 518h1v1h-1zM470 518h1v1h-1zM471 517h1v1h-1zM472 517h1v1h-1zM473 517h1v1h-1zM474 517h1v1h-1zM475 517h1v1h-1zM476 517h1v1h-1zM477 517h1v1h-1zM478 517h1v1h-1zM479 518h1v1h-1zM480 518h1v1h-1zM481 519h1v1h-1zM482 520h1v1h-1zM483 521h1v1h-1zM484 522h1v1h-1zM485 522h1v1h-1zM486 522h1v1h-1zM487 523h1v1h-1zM488 523h1v1h-1zM489 523h1v1h-1zM490 524h1v1h-1zM491 524h1v1h-1zM492 525h1v1h-1zM493 525h1v1h-1zM494 525h1v1h-1zM495 524h1v1h-1zM496 524h1v1h-1zM497 523h1v1h-1zM498 521h1v2h-1zM499 520h1v1h-1zM500 519h1v1h-1zM501 519h1v1h-1zM502 519h1v1h-1zM503 519h1v1h-1zM504 519h1v1h-1zM505 519h1v1h-1zM506 520h1v1h-1zM507 520h1v1h-1zM508 521h1v1h-1zM509 522h1v2h-1zM510 524h1v1h-1zM511 525h1v2h-1zM512 527h1v1h-1zM513 525h1v2h-1zM514 524h1v1h-1zM515 522h1v2h-1zM516 521h1v1h-1zM517 521h1v1h-1zM518 521h1v1h-1zM519 520h1v1h-1zM520 520h1v1h-1zM521 521h1v2h-1zM522 523h1v1h-1zM523 524h1v2h-1zM524 526h1v1h-1zM525 524h1v2h-1zM526 522h1v2h-1zM527 520h1v2h-1zM528 519h1v1h-1zM529 520h1v1h-1zM530 520h1v1h-1zM531 521h1v1h-1zM532 522h1v1h-1zM533 522h1v1h-1zM534 522h1v1h-1zM535 521h1v1h-1zM536 521h1v1h-1zM537 521h1v1h-1zM538 521h1v1h-1zM539 521h1v1h-1zM540 521h1v1h-1zM541 521h1v1h-1zM542 521h1v1h-1zM543 521h1v1h-1zM544 521h1v1h-1zM545 521h1v1h-1zM546 520h1v1h-1zM547 520h1v1h-1zM548 519h1v1h-1zM549 520h1v1h-1zM550 520h1v1h-1zM551 521h1v1h-1zM552 521h1v2h-1zM553 519h1v2h-1zM554 517h1v2h-1zM555 515h1v2h-1zM556 514h1v1h-1zM557 513h1v1h-1zM558 513h1v1h-1zM559 512h1v1h-1zM560 511h1v1h-1zM561 511h1v1h-1zM562 511h1v1h-1zM563 511h1v1h-1zM564 511h1v1h-1zM565 511h1v1h-1zM566 511h1v1h-1zM567 511h1v1h-1zM568 511h1v1h-1zM569 510h1v1h-1zM570 509h1v1h-1zM571 508h1v1h-1zM572 507h1v1h-1zM573 506h1v1h-1zM574 505h1v1h-1zM575 504h1v1h-1zM576 503h1v1h-1zM577 504h1v1h-1zM578 504h1v1h-1zM579 505h1v1h-1zM580 506h1v1h-1zM581 507h1v1h-1zM582 507h1v1h-1zM583 508h1v1h-1zM584 509h1v1h-1zM585 509h1v1h-1zM586 508h1v1h-1zM587 508h1v1h-1zM588 507h1v1h-1zM589 507h1v1h-1zM590 507h1v1h-1zM591 506h1v1h-1zM592 506h1v1h-1zM593 506h1v1h-1zM594 505h1v1h-1zM595 505h1v1h-1zM596 504h1v1h-1zM597 504h1v1h-1zM598 504h1v1h-1zM599 503h1v1h-1zM600 503h1v1h-1zM601 503h1v1h-1zM602 503h1v1h-1zM603 503h1v1h-1zM604 503h1v1h-1zM605 503h1v1h-1zM606 503h1v1h-1zM607 502h1v1h-1zM608 502h1v2h-1zM609 504h1v4h-1zM610 508h1v4h-1zM611 512h1v4h-1zM612 516h1v2h-1zM613 517h1v1h-1zM614 516h1v1h-1zM615 516h1v1h-1zM616 515h1v1h-1zM617 515h1v1h-1zM618 515h1v1h-1zM619 516h1v1h-1zM620 516h1v1h-1zM621 517h1v1h-1zM622 517h1v1h-1zM623 518h1v1h-1zM624 519h1v1h-1zM625 519h1v1h-1zM626 519h1v1h-1zM627 518h1v1h-1zM628 518h1v1h-1zM629 518h1v1h-1zM630 518h1v1h-1zM631 518h1v1h-1zM632 518h1v1h-1zM633 518h1v1h-1zM634 519h1v1h-1zM635 519h1v1h-1zM636 520h1v1h-1zM637 520h1v1h-1zM638 520h1v1h-1zM639 519h1v1h-1zM640 519h1v1h-1zM641 517h1v2h-1zM642 515h1v2h-1zM643 513h1v2h-1zM644 512h1v1h-1zM645 512h1v1h-1zM646 512h1v1h-1zM647 513h1v1h-1zM648 513h1v1h-1zM649 514h1v1h-1zM650 515h1v1h-1zM651 516h1v1h-1zM652 517h1v1h-1zM653 516h1v1h-1zM654 516h1v1h-1zM655 515h1v1h-1zM656 514h1v1h-1zM657 514h1v1h-1zM658 515h1v1h-1zM659 515h1v1h-1zM660 516h1v1h-1zM661 516h1v1h-1zM662 516h1v1h-1zM663 516h1v1h-1zM664 516h1v1h-1zM665 516h1v1h-1zM666 516h1v1h-1zM667 515h1v1h-1zM668 515h1v1h-1zM669 515h1v1h-1zM670 514h1v1h-1zM671 514h1v1h-1zM672 513h1v1h-1zM673 513h1v1h-1zM674 513h1v1h-1zM675 513h1v1h-1zM676 513h1v1h-1zM677 514h1v1h-1zM678 515h1v2h-1zM679 517h1v1h-1zM680 518h1v1h-1zM681 517h1v1h-1zM682 516h1v1h-1zM683 515h1v1h-1zM684 514h1v1h-1zM685 514h1v1h-1zM686 514h1v1h-1zM687 514h1v1h-1zM688 514h1v1h-1zM689 514h1v1h-1zM690 515h1v1h-1zM691 515h1v1h-1zM692 516h1v1h-1zM693 516h1v1h-1zM694 515h1v1h-1zM695 515h1v1h-1zM696 514h1v1h-1zM697 515h1v1h-1zM698 516h1v1h-1zM699 517h1v1h-1zM700 518h1v1h-1zM701 518h1v1h-1zM702 518h1v1h-1zM703 519h1v1h-1zM704 519h1v1h-1zM705 519h1v1h-1zM706 519h1v1h-1zM707 518h1v1h-1zM708 518h1v1h-1zM709 518h1v1h-1zM710 518h1v1h-1zM711 518h1v1h-1zM712 518h1v1h-1zM713 518h1v1h-1zM714 519h1v1h-1zM715 519h1v1h-1zM716 520h1v1h-1zM717 520h1v1h-1zM718 520h1v1h-1zM719 520h1v1h-1zM720 520h1v1h-1zM721 521h1v1h-1zM722 521h1v1h-1zM723 522h1v1h-1zM724 523h1v1h-1zM725 523h1v1h-1zM726 523h1v1h-1zM727 523h1v1h-1zM728 523h1v1h-1zM729 523h1v1h-1zM730 524h1v1h-1zM731 524h1v1h-1zM732 525h1v1h-1zM733 525h1v1h-1zM734 525h1v1h-1zM735 525h1v1h-1zM736 524h1v2h-1zM737 522h1v2h-1zM738 519h1v3h-1zM739 517h1v2h-1zM740 515h1v2h-1zM741 516h1v1h-1zM742 516h1v1h-1zM743 517h1v1h-1zM744 518h1v1h-1zM745 518h1v1h-1zM746 517h1v1h-1zM747 517h1v1h-1zM748 516h1v1h-1zM749 515h1v1h-1zM750 513h1v2h-1zM751 512h1v1h-1zM752 511h1v1h-1zM753 512h1v1h-1zM754 513h1v1h-1zM755 514h1v1h-1zM756 515h1v1h-1zM757 515h1v1h-1zM758 515h1v1h-1zM759 514h1v1h-1zM760 513h1v2h-1zM761 511h1v2h-1zM762 509h1v2h-1zM763 507h1v2h-1zM764 506h1v1h-1zM765 507h1v1h-1zM766 508h1v2h-1zM767 510h1v1h-1zM768 511h1v2h-1zM769 513h1v2h-1zM770 515h1v2h-1zM771 517h1v2h-1zM772 519h1v1h-1zM773 519h1v1h-1zM774 520h1v1h-1zM775 520h1v1h-1zM776 521h1v1h-1zM777 521h1v1h-1zM778 520h1v1h-1zM779 520h1v1h-1zM780 519h1v1h-1zM781 519h1v1h-1zM782 519h1v1h-1zM783 518h1v1h-1zM784 518h1v1h-1zM785 518h1v1h-1zM786 518h1v1h-1zM787 518h1v1h-1zM788 518h1v1h-1zM789 517h1v1h-1zM790 517h1v1h-1zM791 516h1v1h-1zM792 515h1v1h-1zM793 515h1v1h-1zM794 516h1v1h-1zM795 516h1v1h-1zM796 517h1v1h-1zM797 517h1v1h-1zM798 516h1v1h-1zM799 516h1v1h-1zM800 515h1v1h-1zM801 516h1v1h-1zM802 517h1v2h-1zM803 519h1v1h-1zM804 520h1v1h-1zM805 520h1v1h-1zM806 520h1v1h-1zM807 519h1v1h-1zM808 519h1v1h-1zM809 519h1v1h-1zM810 518h1v1h-1zM811 518h1v1h-1zM812 517h1v1h-1zM813 516h1v1h-1zM814 515h1v1h-1zM815 514h1v1h-1zM816 513h1v1h-1zM817 512h1v1h-1zM818 510h1v2h-1zM819 509h1v1h-1zM820 508h1v1h-1zM821 507h1v1h-1zM822 506h1v1h-1zM823 505h1v1h-1zM824 504h1v1h-1zM825 504h1v1h-1zM826 504h1v1h-1zM827 504h1v1h-1zM828 504h1v1h-1zM829 504h1v1h-1zM830 504h1v1h-1zM831 504h1v1h-1zM832 504h1v1h-1zM833 505h1v1h-1zM834 506h1v1h-1zM835 507h1v1h-1zM836 508h1v1h-1zM837 509h1v2h-1zM838 511h1v1h-1zM839 512h1v2h-1zM840 514h1v1h-1zM841 514h1v1h-1zM842 515h1v1h-1zM843 515h1v1h-1zM844 516h1v1h-1zM845 516h1v1h-1zM846 516h1v1h-1zM847 515h1v1h-1zM848 515h1v1h-1zM849 514h1v1h-1zM850 512h1v2h-1zM851 511h1v1h-1zM852 510h1v1h-1zM853 510h1v1h-1zM854 510h1v1h-1zM855 511h1v1h-1zM856 511h1v1h-1zM857 511h1v1h-1zM858 512h1v1h-1zM859 512h1v1h-1zM860 513h1v1h-1zM861 513h1v1h-1zM862 512h1v1h-1zM863 512h1v1h-1zM864 511h1v1h-1zM865 511h1v1h-1zM866 511h1v1h-1zM867 512h1v1h-1zM868 512h1v1h-1zM869 512h1v1h-1zM870 512h1v1h-1zM871 511h1v1h-1zM872 511h1v1h-1zM873 511h1v1h-1zM874 511h1v1h-1zM875 511h1v1h-1zM876 511h1v1h-1zM877 511h1v1h-1zM878 511h1v1h-1zM879 512h1v1h-1zM880 512h1v1h-1zM881 512h1v1h-1zM882 512h1v1h-1zM883 512h1v1h-1zM884 512h1v1h-1zM885 512h1v1h-1zM886 512h1v1h-1zM887 511h1v1h-1zM888 511h1v1h-1zM889 512h1v1h-1zM890 513h1v2h-1zM891 515h1v1h-1zM892 516h1v1h-1zM893 516h1v1h-1zM894 517h1v1h-1zM895 517h1v1h-1zM896 518h1v1h-1zM897 518h1v1h-1zM898 517h1v1h-1zM899 517h1v1h-1zM900 516h1v1h-1zM901 516h1v1h-1zM902 516h1v1h-1zM903 516h1v1h-1zM904 516h1v1h-1zM905 517h1v2h-1zM906 519h1v1h-1zM907 520h1v2h-1zM908 522h1v1h-1zM909 520h1v2h-1zM910 518h1v2h-1zM911 516h1v2h-1zM912 515h1v1h-1zM913 516h1v1h-1zM914 517h1v1h-1zM915 518h1v1h-1zM916 518h1v2h-1zM917 516h1v2h-1zM918 514h1v2h-1zM919 512h1v2h-1zM920 511h1v1h-1zM921 511h1v1h-1zM922 511h1v1h-1zM923 510h1v1h-1zM924 510h1v1h-1z" fill="#1e90ff" shape-rendering="crispEdges"/>
<rect x="3" y="178" width="6" height="6" fill="#00ff00" />
<rect x="5" y="180" width="2" height="2" fill="#fff" />
<rect x="3" y="256" width="6" height="6" fill="#0000ff" />
<rect x="5" y="258" width="2" height="2" fill="#fff" />
<rect x="4" y="331" width="1" height="6" fill="#0000cd" />
<rect x="1160" y="178" width="6" height="6" fill="#00ff00" />
<rect x="1162" y="180" width="2" height="2" fill="#fff" />
<rect x="1160" y="256" width="6" height="6" fill="#0000ff" />
<rect x="1162" y="258" width="2" height="2" fill="#fff" />
<rect x="1160" y="331" width="6" height="6" fill="#0000cd" />
<rect x="1162" y="333" width="2" height="2" fill="#fff" />
<rect x="1167" y="39" width="2" height="1" fill="#000" />
<text x="1172" y="43" font-size="10" fill="#000" textLength="32.3" lengthAdjust="spacingAndGlyphs"  stroke="#000" stroke-width="0.25">0.93810</text>
<rect x="1167" y="72" width="2" height="1" fill="#000" />
<text x="1172" y="76" font-size="10" fill="#000" textLength="32.3" lengthAdjust="spacingAndGlyphs"  stroke="#000" stroke-width="0.25">0.93390</text>
<rect x="1167" y="105" width="2" height="1" fill="#000" />
<text x="1172" y="109" font-size="10" fill="#000" textLength="32.3" lengthAdjust="spacingAndGlyphs"  stroke="#000" stroke-width="0.25">0.92970</text>
<rect x="1167" y="138" width="2" height="1" fill="#000" />
<text x="1172" y="142" font-size="10" fill="#000" textLength="32.3" lengthAdjust="spacingAndGlyphs"  stroke="#000" stroke-width="0.25">0.92550</text>
<rect x="1167" y="171" width="2" height="1" fill="#000" />
<text x="1172" y="175" font-size="10" fill="#000" textLength="32.3" lengthAdjust="spacingAndGlyphs"  stroke="#000" stroke-width="0.25">0.92120</text>
<rect x="1167" y="204" width="2" height="1" fill="#000" />
<text x="1172" y="208" font-size="10" fill="#000" textLength="32.3" lengthAdjust="spacingAndGlyphs"  stroke="#000" stroke-width="0.25">0.91700</text>
<rect x="1167" y="237" width="2" height="1" fill="#000" />
<text x="1172" y="241" font-size="10" fill="#000" textLength="32.3" lengthAdjust="spacingAndGlyphs"  stroke="#000" stroke-width="0.25">0.91280</text>
<rect x="1167" y="270" width="2" height="1" fill="#000" />
<text x="1172" y="274" font-size="10" fill="#000" textLength="32.3" lengthAdjust="spacingAndGlyphs"  stroke="#000" stroke-width="0.25">0.90860</text>
<rect x="1167" y="303" width="2" height="1" fill="#000" />
<text x="1172" y="307" font-size="10" fill="#000" textLength="32.3" lengthAdjust="spacingAndGlyphs"  stroke="#000" stroke-width="0.25">0.90440</text>
<rect x="1167" y="336" width="2" height="1" fill="#000" />
<text x="1172" y="340" font-size="10" fill="#000" textLength="32.3" lengthAdjust="spacingAndGlyphs"  stroke="#000" stroke-width="0.25">0.90020</text>
<rect x="1167" y="370" width="2" height="1" fill="#000" />
<text x="1172" y="374" font-size="10" fill="#000" textLength="32.3" lengthAdjust="spacingAndGlyphs"  stroke="#000" stroke-width="0.25">0.89590</text>
<rect x="1167" y="402" width="2" height="1" fill="#000" />
<text x="1172" y="406" font-size="10" fill="#000" textLength="32.3" lengthAdjust="spacingAndGlyphs"  stroke="#000" stroke-width="0.25">0.89170</text>
<rect x="1168" y="96" width="38" height="11" fill="#ff0000" />
<text x="1172" y="105" font-size="10" fill="#fff" textLength="32.3" lengthAdjust="spacingAndGlyphs"  stroke="#fff" stroke-width="0.25">0.93006</text>
<rect x="1168" y="126" width="38" height="11" fill="#000000" />
<text x="1172" y="135" font-size="10" fill="#fff" textLength="32.3" lengthAdjust="spacingAndGlyphs"  stroke="#fff" stroke-width="0.25">0.92634</text>
<rect x="1168" y="175" width="38" height="11" fill="#00ff00" />
<text x="1172" y="184" font-size="10" fill="#fff" textLength="32.3" lengthAdjust="spacingAndGlyphs"  stroke="#fff" stroke-width="0.25">0.91999</text>
<rect x="1168" y="253" width="38" height="11" fill="#0000ff" />
<text x="1172" y="262" font-size="10" fill="#fff" textLength="32.3" lengthAdjust="spacingAndGlyphs"  stroke="#fff" stroke-width="0.25">0.91004</text>
<rect x="1168" y="328" width="38" height="11" fill="#0000cd" />
<text x="1172" y="337" font-size="10" fill="#fff" textLength="32.3" lengthAdjust="spacingAndGlyphs"  stroke="#fff" stroke-width="0.25">0.90038</text>
<text x="1170.2" y="418" font-size="10" fill="#000" textLength="32.6" lengthAdjust="spacingAndGlyphs"  stroke="#000" stroke-width="0.25">0.00601</text>
<text x="1170.2" y="450" font-size="10" fill="#000" textLength="17.8" lengthAdjust="spacingAndGlyphs"  stroke="#000" stroke-width="0.25">0.00</text>
<text x="1170" y="473" font-size="10" fill="#000" textLength="36" lengthAdjust="spacingAndGlyphs"  stroke="#000" stroke-width="0.25">-0.00464</text>
<rect x="1167" y="409" width="1" height="1" fill="#000" />
<rect x="1167" y="446" width="1" height="1" fill="#000" />
<rect x="1167" y="475" width="1" height="1" fill="#000" />
<text x="1170.5" y="489" font-size="10" fill="#000" textLength="14" lengthAdjust="spacingAndGlyphs"  stroke="#000" stroke-width="0.25">100</text>
<text x="1169.5" y="504" font-size="10" fill="#000" textLength="9.6" lengthAdjust="spacingAndGlyphs"  stroke="#000" stroke-width="0.25">70</text>
<text x="1169.5" y="532" font-size="10" fill="#000" textLength="9.6" lengthAdjust="spacingAndGlyphs"  stroke="#000" stroke-width="0.25">30</text>
<text x="1170" y="547" font-size="10" fill="#000" textLength="4.7" lengthAdjust="spacingAndGlyphs"  stroke="#000" stroke-width="0.25">0</text>
<rect x="1167" y="480" width="1" height="1" fill="#000" />
<rect x="1167" y="549" width="1" height="1" fill="#000" />
<line x1="5" y1="500.5" x2="1166" y2="500.5" stroke="#c0c0c0" stroke-dasharray="3,3" shape-rendering="crispEdges"/>
<line x1="5" y1="528.5" x2="1166" y2="528.5" stroke="#c0c0c0" stroke-dasharray="3,3" shape-rendering="crispEdges"/>
<path d="M7,37 L14,37 L10.5,33 Z" fill="#000"/>
<text x="19.4" y="38" font-size="10" fill="#000" textLength="67.6" lengthAdjust="spacingAndGlyphs"  stroke="#000" stroke-width="0.25">USDCHF-,Daily</text>
<text x="93.4" y="38" font-size="10" fill="#000" textLength="140.6" lengthAdjust="spacingAndGlyphs"  stroke="#000" stroke-width="0.25">0.92566 0.92832 0.92278 0.92634</text>
<text x="8.7" y="420" font-size="10" fill="#000" textLength="64.6" lengthAdjust="spacingAndGlyphs"  stroke="#000" stroke-width="0.25">MACD(12,26,9)</text>
<text x="76.8" y="420" font-size="10" fill="#000" textLength="37.4" lengthAdjust="spacingAndGlyphs"  stroke="#000" stroke-width="0.25">0.000276</text>
<text x="117.7" y="420" font-size="10" fill="#000" textLength="38.1" lengthAdjust="spacingAndGlyphs"  stroke="#000" stroke-width="0.25">0.000236</text>
<text x="8.7" y="491" font-size="10" fill="#000" textLength="31.1" lengthAdjust="spacingAndGlyphs"  stroke="#000" stroke-width="0.25">RSI(14)</text>
<text x="43" y="491" font-size="10" fill="#000" textLength="33.1" lengthAdjust="spacingAndGlyphs"  stroke="#000" stroke-width="0.25">55.9237</text>
<rect x="4" y="551" width="1" height="3" fill="#000" />
<text x="3" y="563" font-size="10" fill="#000" textLength="44.5" lengthAdjust="spacingAndGlyphs"  stroke="#000" stroke-width="0.25">2 Jun 2021</text>
<rect x="68" y="551" width="1" height="3" fill="#000" />
<text x="67" y="563" font-size="10" fill="#000" textLength="49.5" lengthAdjust="spacingAndGlyphs"  stroke="#000" stroke-width="0.25">21 Jun 2021</text>
<rect x="132" y="551" width="1" height="3" fill="#000" />
<text x="131" y="563" font-size="10" fill="#000" textLength="41.5" lengthAdjust="spacingAndGlyphs"  stroke="#000" stroke-width="0.25">9 Jul 2021</text>
<rect x="196" y="551" width="1" height="3" fill="#000" />
<text x="195" y="563" font-size="10" fill="#000" textLength="46.5" lengthAdjust="spacingAndGlyphs"  stroke="#000" stroke-width="0.25">28 Jul 2021</text>
<rect x="260" y="551" width="1" height="3" fill="#000" />
<text x="259" y="563" font-size="10" fill="#000" textLength="51.0" lengthAdjust="spacingAndGlyphs"  stroke="#000" stroke-width="0.25">16 Aug 2021</text>
<rect x="324" y="551" width="1" height="3" fill="#000" />
<text x="323" y="563" font-size="10" fill="#000" textLength="46.0" lengthAdjust="spacingAndGlyphs"  stroke="#000" stroke-width="0.25">3 Sep 2021</text>
<rect x="388" y="551" width="1" height="3" fill="#000" />
<text x="387" y="563" font-size="10" fill="#000" textLength="51.0" lengthAdjust="spacingAndGlyphs"  stroke="#000" stroke-width="0.25">22 Sep 2021</text>
<rect x="452" y="551" width="1" height="3" fill="#000" />
<text x="451" y="563" font-size="10" fill="#000" textLength="49.0" lengthAdjust="spacingAndGlyphs"  stroke="#000" stroke-width="0.25">11 Oct 2021</text>
<rect x="516" y="551" width="1" height="3" fill="#000" />
<text x="515" y="563" font-size="10" fill="#000" textLength="49.0" lengthAdjust="spacingAndGlyphs"  stroke="#000" stroke-width="0.25">29 Oct 2021</text>
<rect x="580" y="551" width="1" height="3" fill="#000" />
<text x="579" y="563" font-size="10" fill="#000" textLength="51.0" lengthAdjust="spacingAndGlyphs"  stroke="#000" stroke-width="0.25">17 Nov 2021</text>
<rect x="644" y="551" width="1" height="3" fill="#000" />
<text x="643" y="563" font-size="10" fill="#000" textLength="46.0" lengthAdjust="spacingAndGlyphs"  stroke="#000" stroke-width="0.25">6 Dec 2021</text>
<rect x="708" y="551" width="1" height="3" fill="#000" />
<text x="707" y="563" font-size="10" fill="#000" textLength="51.0" lengthAdjust="spacingAndGlyphs"  stroke="#000" stroke-width="0.25">24 Dec 2021</text>
<rect x="772" y="551" width="1" height="3" fill="#000" />
<text x="771" y="563" font-size="10" fill="#000" textLength="49.5" lengthAdjust="spacingAndGlyphs"  stroke="#000" stroke-width="0.25">12 Jan 2022</text>
<rect x="836" y="551" width="1" height="3" fill="#000" />
<text x="835" y="563" font-size="10" fill="#000" textLength="49.5" lengthAdjust="spacingAndGlyphs"  stroke="#000" stroke-width="0.25">31 Jan 2022</text>
<rect x="900" y="551" width="1" height="3" fill="#000" />
<text x="899" y="563" font-size="10" fill="#000" textLength="50.5" lengthAdjust="spacingAndGlyphs"  stroke="#000" stroke-width="0.25">18 Feb 2022</text>
<defs>
<linearGradient id="gu" gradientUnits="userSpaceOnUse" x1="0" y1="46" x2="0" y2="70"><stop offset="0" stop-color="#5858f6"/><stop offset="1" stop-color="#3636de"/></linearGradient>
<linearGradient id="gl" gradientUnits="userSpaceOnUse" x1="0" y1="70" x2="0" y2="103"><stop offset="0" stop-color="#3030d6"/><stop offset="1" stop-color="#0808aa"/></linearGradient>
<linearGradient id="gb" x1="0" y1="0" x2="0" y2="1"><stop offset="0" stop-color="#f3f3f3"/><stop offset="0.33" stop-color="#e9e9e9"/><stop offset="0.34" stop-color="#dddddd"/><stop offset="1" stop-color="#d2d2d2"/></linearGradient>
</defs>
<rect x="5" y="46" width="223" height="57" fill="#fff" />
<rect x="7.5" y="46.5" width="51" height="25" fill="url(#gu)" stroke="#2020c8" stroke-width="1"/>
<rect x="7.5" y="70.5" width="108" height="32" fill="url(#gl)" stroke="#0c0cae" stroke-width="1"/>
<rect x="175.5" y="46.5" width="50" height="25" fill="url(#gu)" stroke="#2020c8" stroke-width="1"/>
<rect x="118.5" y="70.5" width="107" height="32" fill="url(#gl)" stroke="#0c0cae" stroke-width="1"/>
<rect x="8" y="70" width="50" height="1" fill="#3434dc" />
<rect x="176" y="70" width="49" height="1" fill="#3434dc" />
<rect x="11" y="70" width="44" height="1" fill="#8a8af4" />
<rect x="178" y="70" width="44" height="1" fill="#8a8af4" />
<rect x="61.5" y="46.5" width="110" height="21" fill="#fff" stroke="#adadb5"/>
<rect x="63" y="48" width="18" height="18" fill="url(#gb)" />
<rect x="82" y="47" width="1" height="20" fill="#b4b4bc" />
<rect x="152" y="48" width="18" height="18" fill="url(#gb)" />
<rect x="150" y="47" width="1" height="20" fill="#b4b4bc" />
<path d="M69,55 L74,55 L71.5,58.2 Z" fill="#3f5cc0"/>
<path d="M158,58.2 L163,58.2 L160.5,55 Z" fill="#3f5cc0"/>
<text x="123.3" y="61" font-size="13" fill="#000" textLength="23.8" lengthAdjust="spacingAndGlyphs" >3.00</text>
<text x="19.6" y="62" font-size="12" fill="#f0f0ff" textLength="25.3" lengthAdjust="spacingAndGlyphs" >SELL</text>
<text x="188" y="62" font-size="12" fill="#f0f0ff" textLength="23" lengthAdjust="spacingAndGlyphs" >BUY</text>
<text x="27" y="98" font-size="12" fill="#fff" textLength="24" lengthAdjust="spacingAndGlyphs" font-weight="bold" >0.92</text>
<text x="137.6" y="98" font-size="12" fill="#fff" textLength="24" lengthAdjust="spacingAndGlyphs" font-weight="bold" >0.92</text>
<text x="55" y="98" font-size="35.7" fill="#fff" textLength="33" lengthAdjust="spacingAndGlyphs" stroke="url(#gl)" stroke-width="0.5">63</text>
<text x="166" y="98" font-size="35.7" fill="#fff" textLength="33" lengthAdjust="spacingAndGlyphs" stroke="url(#gl)" stroke-width="0.5">65</text>
<text x="94.2" y="82" font-size="11.5" fill="#fff" font-weight="bold" >4</text>
<text x="205.5" y="82" font-size="11.5" fill="#fff" font-weight="bold" >5</text>
<rect x="0" y="571" width="1206" height="2" fill="#f0f0f0" />
<rect x="0" y="574" width="1206" height="19" fill="#f0f0f0" />
<rect x="0" y="573" width="1206" height="1" fill="#000" />
<rect x="0" y="573" width="1" height="19" fill="#404040" />
<rect x="322" y="573" width="106" height="18" fill="#fff" />
<rect x="321" y="573" width="1" height="19" fill="#000" />
<rect x="428" y="573" width="1" height="19" fill="#000" />
<rect x="321" y="591" width="108" height="1" fill="#000" />
<rect x="0" y="593" width="1206" height="3" fill="#f8f8f8" />
<rect x="0" y="596" width="1206" height="1" fill="#d4d4d4" />
<rect x="0" y="597" width="1206" height="1" fill="#a0a0a0" />
<rect x="0" y="598" width="1206" height="3" fill="#ffffff" />
<rect x="2" y="598" width="1" height="3" fill="#e8e8e8" />
<rect x="110" y="598" width="1" height="3" fill="#e8e8e8" />
<rect x="194" y="598" width="1" height="3" fill="#e8e8e8" />
<rect x="302" y="598" width="1" height="3" fill="#e8e8e8" />
<rect x="422" y="598" width="1" height="3" fill="#e8e8e8" />
<rect x="543" y="598" width="1" height="3" fill="#e8e8e8" />
<rect x="662" y="598" width="1" height="3" fill="#e8e8e8" />
<rect x="782" y="598" width="1" height="3" fill="#e8e8e8" />
<rect x="903" y="598" width="1" height="3" fill="#e8e8e8" />
<rect x="1022" y="598" width="1" height="3" fill="#e8e8e8" />
<rect x="1142" y="598" width="1" height="3" fill="#e8e8e8" />
<text x="16.5" y="588" font-size="12.4" fill="#6e6e78" textLength="77.5" lengthAdjust="spacingAndGlyphs" >USDX,Weekly</text>
<text x="116" y="588" font-size="12.4" fill="#6e6e78" textLength="86" lengthAdjust="spacingAndGlyphs" >EURUSD-,Daily</text>
<text x="223" y="588" font-size="12.4" fill="#6e6e78" textLength="88" lengthAdjust="spacingAndGlyphs" >AUDUSD-,Daily</text>
<text x="333.8" y="588" font-size="12.4" fill="#000" textLength="82.9" lengthAdjust="spacingAndGlyphs" >USDCHF-,Daily</text>
<text x="440" y="588" font-size="12.4" fill="#6e6e78" textLength="86" lengthAdjust="spacingAndGlyphs" >USDCAD-,Daily</text>
<text x="549" y="588" font-size="12.4" fill="#6e6e78" textLength="88" lengthAdjust="spacingAndGlyphs" >USDCNH-,Daily</text>
<text x="660" y="588" font-size="12.4" fill="#6e6e78" textLength="74" lengthAdjust="spacingAndGlyphs" >XAUUSD-,H1</text>
<text x="756" y="588" font-size="12.4" fill="#6e6e78" textLength="70" lengthAdjust="spacingAndGlyphs" >UKOil-,Daily</text>
<text x="849" y="588" font-size="12.4" fill="#6e6e78" textLength="64" lengthAdjust="spacingAndGlyphs" >DJ30-,Daily</text>
<text x="936" y="588" font-size="12.4" fill="#6e6e78" textLength="62" lengthAdjust="spacingAndGlyphs" >UK100-,H1</text>
<rect x="105" y="576" width="1" height="14" fill="#707070" />
<rect x="213" y="576" width="1" height="14" fill="#707070" />
<rect x="537" y="576" width="1" height="14" fill="#707070" />
<rect x="649" y="576" width="1" height="14" fill="#707070" />
<rect x="745" y="576" width="1" height="14" fill="#707070" />
<rect x="837" y="576" width="1" height="14" fill="#707070" />
<rect x="925" y="576" width="1" height="14" fill="#707070" />
<rect x="1009" y="576" width="1" height="14" fill="#707070" />
<path d="M1185,579 L1185,585.5 L1181.7,582.2 Z" fill="#8a8a8a"/>
<path d="M1201,579 L1201,585.5 L1204.3,582.2 Z" fill="#8a8a8a"/></svg></body></html>
